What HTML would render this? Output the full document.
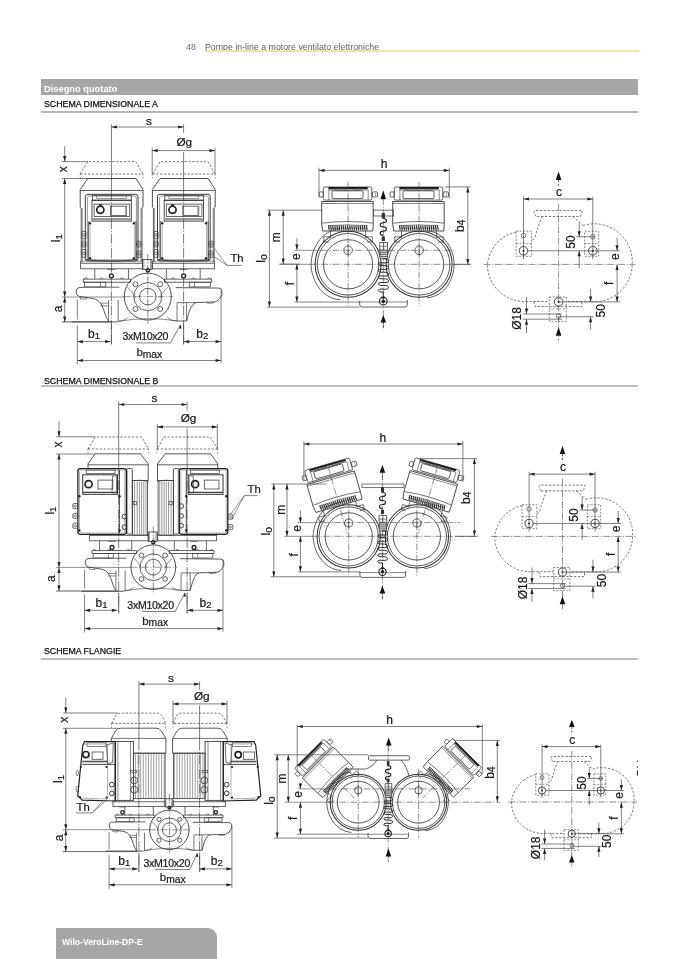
<!DOCTYPE html>
<html><head><meta charset="utf-8">
<style>
html,body{margin:0;padding:0;background:#fff;}
body{width:678px;height:959px;position:relative;overflow:hidden;font-family:"Liberation Sans",sans-serif;color:#222;}
.abs{position:absolute;white-space:nowrap;will-change:transform;}
#pnum{left:186px;top:41.6px;font-size:8.8px;color:#6a6a6a;}
#ptitle{left:205px;top:41.6px;font-size:8.8px;color:#5e5e5e;}
#yline{left:205px;top:50.2px;width:434px;height:2px;background:linear-gradient(#f6edc0,#ecdb93);}
#bar{left:41px;top:79px;width:597px;height:16px;background:#a6a6a9;}
#bar span{position:absolute;left:3px;top:4.6px;font-size:9.3px;font-weight:bold;color:#fff;}
.sec{left:43.5px;font-size:8.8px;color:#111;-webkit-text-stroke:0.25px #111;}
.hl{left:41px;width:597px;height:1.6px;background:#c0c0c0;}
#foot{left:56px;top:928px;width:161px;height:40px;background:#a6a6a9;border-top-right-radius:9px;}
#foot span{position:absolute;left:6px;top:9px;font-size:8.6px;font-weight:bold;color:#fff;}
svg{position:absolute;left:0;top:0;will-change:transform;}
svg text{stroke:#1a1a1a;stroke-width:0.22px;}
.ns *{vector-effect:non-scaling-stroke;}
</style></head><body>
<div class="abs" id="pnum">48</div>
<div class="abs" id="ptitle">Pompe in-line a motore ventilato elettroniche</div>
<div class="abs" id="yline"></div>
<div class="abs" id="bar"><span>Disegno quotato</span></div>
<div class="abs sec" style="top:99px">SCHEMA DIMENSIONALE A</div>
<div class="abs hl" style="top:110.8px;background:#b6b6b6"></div>
<div class="abs sec" style="top:375.6px">SCHEMA DIMENSIONALE B</div>
<div class="abs hl" style="top:385px"></div>
<div class="abs sec" style="top:645.7px">SCHEMA FLANGIE</div>
<div class="abs hl" style="top:658.1px"></div>
<div class="abs" id="foot"><span>Wilo-VeroLine-DP-E</span></div>
<svg width="678" height="959" viewBox="0 0 678 959" font-family="Liberation Sans, sans-serif">
<polyline points="80.2,174 87.9,161.6 135.7,161.6 143,174" fill="none" stroke="#555" stroke-width="0.8" stroke-dasharray="2.3,1.6"/>
<line x1="80.2" y1="174" x2="143" y2="174" stroke="#555" stroke-width="0.8" stroke-dasharray="2.3,1.6"/>
<line x1="80.2" y1="174" x2="80.2" y2="178.5" stroke="#666" stroke-width="0.7" stroke-dasharray="1.5,1.5"/>
<line x1="143" y1="174" x2="143" y2="178.5" stroke="#666" stroke-width="0.7" stroke-dasharray="1.5,1.5"/>
<polyline points="80.2,207.2 80.2,189.5 87.9,178.5 136,178.5 143,189.5 143,207.2" fill="none" stroke="#3a3a3a" stroke-width="0.9"/>
<line x1="80.2" y1="190.5" x2="143" y2="190.5" stroke="#3a3a3a" stroke-width="0.8"/>
<polyline points="80.2,207.2 81.2,208 81.2,262" fill="none" stroke="#3a3a3a" stroke-width="0.8"/>
<polyline points="143,207.2 142,208 142,262" fill="none" stroke="#3a3a3a" stroke-width="0.8"/>
<line x1="82.2" y1="208" x2="82.2" y2="262" stroke="#3a3a3a" stroke-width="0.6"/>
<line x1="141" y1="208" x2="141" y2="262" stroke="#3a3a3a" stroke-width="0.6"/>
<rect x="85.3" y="194.3" width="52.7" height="66.7" rx="2.5" fill="none" stroke="#3a3a3a" stroke-width="1.0"/>
<rect x="87.4" y="196" width="49" height="63.8" rx="1.5" fill="none" stroke="#555" stroke-width="0.6"/>
<rect x="92.6" y="195.3" width="38.7" height="4.7" rx="0" fill="none" stroke="#3a3a3a" stroke-width="0.8"/>
<rect x="96.7" y="195.8" width="29.9" height="2.8" rx="0" fill="none" stroke="#555" stroke-width="0.6"/>
<rect x="92" y="200.5" width="39.3" height="20.6" rx="0" fill="none" stroke="#3a3a3a" stroke-width="0.9"/>
<rect x="94.1" y="204.1" width="35.6" height="12.4" rx="0" fill="none" stroke="#444" stroke-width="0.8"/>
<line x1="92" y1="219.3" x2="131.3" y2="219.3" stroke="#9a9a9a" stroke-width="2.6"/>
<circle cx="100.3" cy="209.8" r="3.6" fill="none" stroke="#222" stroke-width="1.7"/>
<rect x="99.3" y="204.4" width="2" height="1.8" rx="0" fill="#444" stroke="#222" stroke-width="0.6"/>
<rect x="110.6" y="206.2" width="16" height="9.3" rx="0" fill="none" stroke="#444" stroke-width="0.8"/>
<line x1="125.8" y1="206.6" x2="125.8" y2="215.1" stroke="#999" stroke-width="1.4"/>
<line x1="88.4" y1="221.1" x2="88.4" y2="260" stroke="#3a3a3a" stroke-width="0.8"/>
<line x1="135.9" y1="221.1" x2="135.9" y2="260" stroke="#3a3a3a" stroke-width="0.8"/>
<line x1="90" y1="221.1" x2="90" y2="259" stroke="#666" stroke-width="0.5"/>
<line x1="134.3" y1="221.1" x2="134.3" y2="259" stroke="#666" stroke-width="0.5"/>
<circle cx="90" cy="223.2" r="1.2" fill="#333" stroke="#3a3a3a" stroke-width="0"/>
<circle cx="133.8" cy="223.2" r="1.2" fill="#333" stroke="#3a3a3a" stroke-width="0"/>
<circle cx="90" cy="258.3" r="1.2" fill="#333" stroke="#3a3a3a" stroke-width="0"/>
<circle cx="133.8" cy="258.3" r="1.2" fill="#333" stroke="#3a3a3a" stroke-width="0"/>
<rect x="81.7" y="231.5" width="4.3" height="7.2" rx="0.8" fill="none" stroke="#333" stroke-width="0.7"/>
<circle cx="83.9" cy="235.1" r="1.3" fill="none" stroke="#333" stroke-width="0.6"/>
<rect x="81.7" y="241.3" width="4.3" height="5.7" rx="0.8" fill="none" stroke="#333" stroke-width="0.7"/>
<circle cx="83.9" cy="244.15" r="1.3" fill="none" stroke="#333" stroke-width="0.6"/>
<rect x="81.7" y="249.5" width="4.3" height="7.8" rx="0.8" fill="none" stroke="#333" stroke-width="0.7"/>
<circle cx="83.9" cy="253.4" r="1.3" fill="none" stroke="#333" stroke-width="0.6"/>
<rect x="136.5" y="241.3" width="4.5" height="5.7" rx="0.8" fill="none" stroke="#333" stroke-width="0.7"/>
<circle cx="138.7" cy="244.15" r="1.3" fill="none" stroke="#333" stroke-width="0.6"/>
<rect x="136.5" y="251" width="4.5" height="6.3" rx="0.8" fill="none" stroke="#333" stroke-width="0.7"/>
<circle cx="138.7" cy="254.15" r="1.3" fill="none" stroke="#333" stroke-width="0.6"/>
<path d="M85.4,259.5 Q111.4,263 137.9,259.5" fill="none" stroke="#3a3a3a" stroke-width="1.0"/>
<line x1="81.9" y1="261.2" x2="141.2" y2="261.2" stroke="#555" stroke-width="0.6"/>
<polyline points="152.4,174 160.1,161.6 207.9,161.6 215.2,174" fill="none" stroke="#555" stroke-width="0.8" stroke-dasharray="2.3,1.6"/>
<line x1="152.4" y1="174" x2="215.2" y2="174" stroke="#555" stroke-width="0.8" stroke-dasharray="2.3,1.6"/>
<line x1="152.4" y1="174" x2="152.4" y2="178.5" stroke="#666" stroke-width="0.7" stroke-dasharray="1.5,1.5"/>
<line x1="215.2" y1="174" x2="215.2" y2="178.5" stroke="#666" stroke-width="0.7" stroke-dasharray="1.5,1.5"/>
<polyline points="152.4,207.2 152.4,189.5 160.1,178.5 208.2,178.5 215.2,189.5 215.2,207.2" fill="none" stroke="#3a3a3a" stroke-width="0.9"/>
<line x1="152.4" y1="190.5" x2="215.2" y2="190.5" stroke="#3a3a3a" stroke-width="0.8"/>
<polyline points="152.4,207.2 153.4,208 153.4,262" fill="none" stroke="#3a3a3a" stroke-width="0.8"/>
<polyline points="215.2,207.2 214.2,208 214.2,262" fill="none" stroke="#3a3a3a" stroke-width="0.8"/>
<line x1="154.4" y1="208" x2="154.4" y2="262" stroke="#3a3a3a" stroke-width="0.6"/>
<line x1="213.2" y1="208" x2="213.2" y2="262" stroke="#3a3a3a" stroke-width="0.6"/>
<rect x="157.5" y="194.3" width="52.7" height="66.7" rx="2.5" fill="none" stroke="#3a3a3a" stroke-width="1.0"/>
<rect x="159.6" y="196" width="49" height="63.8" rx="1.5" fill="none" stroke="#555" stroke-width="0.6"/>
<rect x="164.8" y="195.3" width="38.7" height="4.7" rx="0" fill="none" stroke="#3a3a3a" stroke-width="0.8"/>
<rect x="168.9" y="195.8" width="29.9" height="2.8" rx="0" fill="none" stroke="#555" stroke-width="0.6"/>
<rect x="164.2" y="200.5" width="39.3" height="20.6" rx="0" fill="none" stroke="#3a3a3a" stroke-width="0.9"/>
<rect x="166.3" y="204.1" width="35.6" height="12.4" rx="0" fill="none" stroke="#444" stroke-width="0.8"/>
<line x1="164.2" y1="219.3" x2="203.5" y2="219.3" stroke="#9a9a9a" stroke-width="2.6"/>
<circle cx="172.5" cy="209.8" r="3.6" fill="none" stroke="#222" stroke-width="1.7"/>
<rect x="171.5" y="204.4" width="2" height="1.8" rx="0" fill="#444" stroke="#222" stroke-width="0.6"/>
<rect x="182.8" y="206.2" width="16" height="9.3" rx="0" fill="none" stroke="#444" stroke-width="0.8"/>
<line x1="198" y1="206.6" x2="198" y2="215.1" stroke="#999" stroke-width="1.4"/>
<line x1="160.6" y1="221.1" x2="160.6" y2="260" stroke="#3a3a3a" stroke-width="0.8"/>
<line x1="208.1" y1="221.1" x2="208.1" y2="260" stroke="#3a3a3a" stroke-width="0.8"/>
<line x1="162.2" y1="221.1" x2="162.2" y2="259" stroke="#666" stroke-width="0.5"/>
<line x1="206.5" y1="221.1" x2="206.5" y2="259" stroke="#666" stroke-width="0.5"/>
<circle cx="162.2" cy="223.2" r="1.2" fill="#333" stroke="#3a3a3a" stroke-width="0"/>
<circle cx="206" cy="223.2" r="1.2" fill="#333" stroke="#3a3a3a" stroke-width="0"/>
<circle cx="162.2" cy="258.3" r="1.2" fill="#333" stroke="#3a3a3a" stroke-width="0"/>
<circle cx="206" cy="258.3" r="1.2" fill="#333" stroke="#3a3a3a" stroke-width="0"/>
<rect x="153.9" y="231.5" width="4.3" height="7.2" rx="0.8" fill="none" stroke="#333" stroke-width="0.7"/>
<circle cx="156.1" cy="235.1" r="1.3" fill="none" stroke="#333" stroke-width="0.6"/>
<rect x="153.9" y="241.3" width="4.3" height="5.7" rx="0.8" fill="none" stroke="#333" stroke-width="0.7"/>
<circle cx="156.1" cy="244.15" r="1.3" fill="none" stroke="#333" stroke-width="0.6"/>
<rect x="153.9" y="249.5" width="4.3" height="7.8" rx="0.8" fill="none" stroke="#333" stroke-width="0.7"/>
<circle cx="156.1" cy="253.4" r="1.3" fill="none" stroke="#333" stroke-width="0.6"/>
<rect x="208.7" y="241.3" width="4.5" height="5.7" rx="0.8" fill="none" stroke="#333" stroke-width="0.7"/>
<circle cx="210.9" cy="244.15" r="1.3" fill="none" stroke="#333" stroke-width="0.6"/>
<rect x="208.7" y="251" width="4.5" height="6.3" rx="0.8" fill="none" stroke="#333" stroke-width="0.7"/>
<circle cx="210.9" cy="254.15" r="1.3" fill="none" stroke="#333" stroke-width="0.6"/>
<path d="M157.6,259.5 Q183.6,263 210.1,259.5" fill="none" stroke="#3a3a3a" stroke-width="1.0"/>
<line x1="154.1" y1="261.2" x2="213.4" y2="261.2" stroke="#555" stroke-width="0.6"/>
<rect x="80.6" y="263.2" width="62" height="5.6" rx="0" fill="none" stroke="#3a3a3a" stroke-width="0.8"/>
<line x1="80.6" y1="261" x2="80.6" y2="263.2" stroke="#3a3a3a" stroke-width="0.75"/>
<line x1="142.6" y1="261" x2="142.6" y2="263.2" stroke="#3a3a3a" stroke-width="0.75"/>
<line x1="94.8" y1="268.8" x2="94.8" y2="279.1" stroke="#3a3a3a" stroke-width="0.75"/>
<line x1="128.6" y1="268.8" x2="128.6" y2="279.1" stroke="#3a3a3a" stroke-width="0.75"/>
<circle cx="111.4" cy="275.8" r="2" fill="none" stroke="#222" stroke-width="1.3"/>
<line x1="107.4" y1="269.5" x2="115.4" y2="269.5" stroke="#3a3a3a" stroke-width="0.6"/>
<rect x="83.3" y="279.1" width="47.1" height="3.1" rx="0" fill="none" stroke="#3a3a3a" stroke-width="0.8"/>
<path d="M84.4,279.1 a1.5,1.2 0 0 1 3,0" fill="none" stroke="#3a3a3a" stroke-width="0.6"/>
<path d="M99.9,279.1 a1.5,1.2 0 0 1 3,0" fill="none" stroke="#3a3a3a" stroke-width="0.6"/>
<path d="M120.4,279.1 a1.5,1.2 0 0 1 3,0" fill="none" stroke="#3a3a3a" stroke-width="0.6"/>
<rect x="84.6" y="282.2" width="21.2" height="4.7" rx="0" fill="none" stroke="#3a3a3a" stroke-width="0.7"/>
<line x1="100.5" y1="282.2" x2="100.5" y2="286.9" stroke="#3a3a3a" stroke-width="0.6"/>
<path d="M84.6,287.2 L78.8,287.7 Q76,288.2 76.2,292 Q76.4,295.5 79.2,296.4 L92.1,298.4 C100.4,299.5 102.4,306 104.4,312 C106.4,318 107.6,320.5 108.9,321.4" fill="none" stroke="#3a3a3a" stroke-width="0.85"/>
<path d="M80.4,297 l0,1.8 l6,0.4 l0,-1.4" fill="none" stroke="#3a3a3a" stroke-width="0.6"/>
<line x1="84.6" y1="287.2" x2="119.4" y2="287.2" stroke="#3a3a3a" stroke-width="0.8"/>
<line x1="100.1" y1="303.2" x2="108.5" y2="303.2" stroke="#3a3a3a" stroke-width="0.6"/>
<line x1="100.1" y1="305.8" x2="108.5" y2="305.8" stroke="#3a3a3a" stroke-width="0.6"/>
<line x1="108.5" y1="300" x2="108.5" y2="321.4" stroke="#3a3a3a" stroke-width="0.7"/>
<line x1="118.2" y1="300" x2="118.2" y2="321.4" stroke="#3a3a3a" stroke-width="0.7"/>
<path d="M118.2,321.4 Q123.4,321 127.4,318" fill="none" stroke="#3a3a3a" stroke-width="0.6"/>
<path d="M127.4,287.2 Q132.4,291 135.4,298" fill="none" stroke="#3a3a3a" stroke-width="0.6"/>
<rect x="152.4" y="263.2" width="62" height="5.6" rx="0" fill="none" stroke="#3a3a3a" stroke-width="0.8"/>
<line x1="152.4" y1="261" x2="152.4" y2="263.2" stroke="#3a3a3a" stroke-width="0.75"/>
<line x1="214.4" y1="261" x2="214.4" y2="263.2" stroke="#3a3a3a" stroke-width="0.75"/>
<line x1="200.2" y1="268.8" x2="200.2" y2="279.1" stroke="#3a3a3a" stroke-width="0.75"/>
<line x1="166.4" y1="268.8" x2="166.4" y2="279.1" stroke="#3a3a3a" stroke-width="0.75"/>
<circle cx="183.6" cy="275.8" r="2" fill="none" stroke="#222" stroke-width="1.3"/>
<line x1="179.6" y1="269.5" x2="187.6" y2="269.5" stroke="#3a3a3a" stroke-width="0.6"/>
<rect x="164.6" y="279.1" width="47.1" height="3.1" rx="0" fill="none" stroke="#3a3a3a" stroke-width="0.8"/>
<path d="M207.6,279.1 a1.5,1.2 0 0 1 3,0" fill="none" stroke="#3a3a3a" stroke-width="0.6"/>
<path d="M192.1,279.1 a1.5,1.2 0 0 1 3,0" fill="none" stroke="#3a3a3a" stroke-width="0.6"/>
<path d="M171.6,279.1 a1.5,1.2 0 0 1 3,0" fill="none" stroke="#3a3a3a" stroke-width="0.6"/>
<rect x="189.2" y="282.2" width="21.2" height="4.7" rx="0" fill="none" stroke="#3a3a3a" stroke-width="0.7"/>
<line x1="194.5" y1="282.2" x2="194.5" y2="286.9" stroke="#3a3a3a" stroke-width="0.6"/>
<path d="M175.6,287.6 L219,288.1 Q221.9,288.4 221.9,291.5 L221.9,294.6 Q219.5,300.5 214.9,301.9 L196,302.6 C191,304 189,312 186.6,321" fill="none" stroke="#3a3a3a" stroke-width="0.85"/>
<path d="M213.6,301.4 l-0.4,1.6 l-6,0.2 l0,-1.2" fill="none" stroke="#3a3a3a" stroke-width="0.6"/>
<line x1="186.6" y1="303" x2="186.6" y2="321" stroke="#3a3a3a" stroke-width="0.7"/>
<line x1="177" y1="303" x2="177" y2="321" stroke="#3a3a3a" stroke-width="0.7"/>
<line x1="177" y1="321" x2="186.6" y2="321" stroke="#3a3a3a" stroke-width="0.8"/>
<line x1="177" y1="302.6" x2="196" y2="302.6" stroke="#3a3a3a" stroke-width="0.7"/>
<path d="M177,321 Q171.6,321 167.6,318" fill="none" stroke="#3a3a3a" stroke-width="0.6"/>
<path d="M167.6,287.6 Q162.6,291 159.6,298" fill="none" stroke="#3a3a3a" stroke-width="0.6"/>
<rect x="142.4" y="259.5" width="9.5" height="10" rx="0" fill="none" stroke="#3a3a3a" stroke-width="0.8"/>
<line x1="143.8" y1="259.5" x2="143.8" y2="269.5" stroke="#3a3a3a" stroke-width="0.5"/>
<line x1="150.5" y1="259.5" x2="150.5" y2="269.5" stroke="#3a3a3a" stroke-width="0.5"/>
<circle cx="147.8" cy="270.3" r="1.7" fill="none" stroke="#222" stroke-width="1.3"/>
<circle cx="147.8" cy="296.6" r="23.5" fill="none" stroke="#3a3a3a" stroke-width="0.9"/>
<circle cx="147.8" cy="296.6" r="14" fill="none" stroke="#3a3a3a" stroke-width="0.8"/>
<circle cx="147.8" cy="296.6" r="8.3" fill="none" stroke="#3a3a3a" stroke-width="0.8"/>
<circle cx="135.4" cy="284.2" r="2.5" fill="none" stroke="#3a3a3a" stroke-width="0.8"/>
<circle cx="135.4" cy="309" r="2.5" fill="none" stroke="#3a3a3a" stroke-width="0.8"/>
<circle cx="160.2" cy="284.2" r="2.5" fill="none" stroke="#3a3a3a" stroke-width="0.8"/>
<circle cx="160.2" cy="309" r="2.5" fill="none" stroke="#3a3a3a" stroke-width="0.8"/>
<line x1="147.8" y1="254" x2="147.8" y2="324" stroke="#333" stroke-width="0.6" stroke-dasharray="7,1.5,1.2,1.5"/>
<line x1="123.8" y1="296.6" x2="172.8" y2="296.6" stroke="#444" stroke-width="0.55" stroke-dasharray="7,1.5,1.2,1.5"/>
<line x1="72" y1="321.9" x2="117" y2="321.9" stroke="#3a3a3a" stroke-width="0.85"/>
<path d="M117,321.6 Q147.8,316 177,321" fill="none" stroke="#3a3a3a" stroke-width="0.6"/>
<line x1="111.4" y1="124.3" x2="111.4" y2="190.5" stroke="#333" stroke-width="0.65"/>
<line x1="111.4" y1="190.5" x2="111.4" y2="344" stroke="#333" stroke-width="0.65" stroke-dasharray="10,1.6,1.2,1.6"/>
<line x1="183.6" y1="152.1" x2="183.6" y2="190.5" stroke="#333" stroke-width="0.65"/>
<line x1="183.6" y1="190.5" x2="183.6" y2="344" stroke="#333" stroke-width="0.65" stroke-dasharray="10,1.6,1.2,1.6"/>
<line x1="61.9" y1="297" x2="125" y2="297" stroke="#444" stroke-width="0.6"/>
<line x1="111.4" y1="127" x2="183.6" y2="127" stroke="#4a4a4a" stroke-width="0.7"/>
<polygon points="111.4,127 116.9,125.4 116.9,128.6" fill="#222"/>
<polygon points="183.6,127 178.1,125.4 178.1,128.6" fill="#222"/>
<line x1="183.6" y1="124.3" x2="183.6" y2="133" stroke="#4a4a4a" stroke-width="0.7"/>
<text x="148.9" y="125" font-size="11.8" text-anchor="middle" fill="#1a1a1a">s</text>
<line x1="152.2" y1="150.6" x2="215" y2="150.6" stroke="#4a4a4a" stroke-width="0.7"/>
<polygon points="152.2,150.6 157.7,149 157.7,152.2" fill="#222"/>
<polygon points="215,150.6 209.5,149 209.5,152.2" fill="#222"/>
<line x1="152.2" y1="147.6" x2="152.2" y2="174" stroke="#4a4a4a" stroke-width="0.7"/>
<line x1="215" y1="147.6" x2="215" y2="174" stroke="#4a4a4a" stroke-width="0.7"/>
<text x="184.3" y="145.7" font-size="11.8" text-anchor="middle" fill="#1a1a1a">Øg</text>
<line x1="61.9" y1="161.6" x2="88" y2="161.6" stroke="#4a4a4a" stroke-width="0.7"/>
<line x1="61.9" y1="178.5" x2="88" y2="178.5" stroke="#4a4a4a" stroke-width="0.7"/>
<line x1="64.7" y1="146.1" x2="64.7" y2="161.6" stroke="#4a4a4a" stroke-width="0.7"/>
<polygon points="64.7,161.6 63.1,156.1 66.3,156.1" fill="#222"/>
<text x="67.3" y="169.25" font-size="12" text-anchor="middle" fill="#1a1a1a" transform="rotate(-90 67.3 169.25)">x</text>
<line x1="64.7" y1="178.5" x2="64.7" y2="297" stroke="#4a4a4a" stroke-width="0.7"/>
<polygon points="64.7,178.5 63.1,184 66.3,184" fill="#222"/>
<polygon points="64.7,297 63.1,291.5 66.3,291.5" fill="#222"/>
<text x="60.1" y="242.2" font-size="12" fill="#1a1a1a" transform="rotate(-90 60.1 242.2)">l<tspan font-size="9.5" dy="1.5">1</tspan></text>
<line x1="64.7" y1="297" x2="64.7" y2="321.9" stroke="#4a4a4a" stroke-width="0.7"/>
<polygon points="64.7,297 63.1,302.5 66.3,302.5" fill="#222"/>
<polygon points="64.7,321.9 63.1,316.4 66.3,316.4" fill="#222"/>
<text x="61.9" y="308.8" font-size="12" text-anchor="middle" fill="#1a1a1a" transform="rotate(-90 61.9 308.8)">a</text>
<line x1="61.9" y1="321.9" x2="112" y2="321.9" stroke="#3a3a3a" stroke-width="0.8"/>
<line x1="77.3" y1="299.5" x2="77.3" y2="319.4" stroke="#4a4a4a" stroke-width="0.7"/>
<line x1="77.3" y1="325.4" x2="77.3" y2="364.5" stroke="#4a4a4a" stroke-width="0.7"/>
<line x1="221.1" y1="290" x2="221.1" y2="363.5" stroke="#4a4a4a" stroke-width="0.7"/>
<line x1="77.3" y1="341.6" x2="110.6" y2="341.6" stroke="#4a4a4a" stroke-width="0.7"/>
<polygon points="77.3,341.6 82.8,340 82.8,343.2" fill="#222"/>
<polygon points="110.6,341.6 105.1,340 105.1,343.2" fill="#222"/>
<line x1="183.8" y1="341.6" x2="221.1" y2="341.6" stroke="#4a4a4a" stroke-width="0.7"/>
<polygon points="183.8,341.6 189.3,340 189.3,343.2" fill="#222"/>
<polygon points="221.1,341.6 215.6,340 215.6,343.2" fill="#222"/>
<line x1="111.4" y1="323.9" x2="111.4" y2="344.6" stroke="#4a4a4a" stroke-width="0.7"/>
<line x1="183.6" y1="323.9" x2="183.6" y2="344.6" stroke="#4a4a4a" stroke-width="0.7"/>
<line x1="77.3" y1="360.5" x2="221.1" y2="360.5" stroke="#4a4a4a" stroke-width="0.7"/>
<polygon points="77.3,360.5 82.8,358.9 82.8,362.1" fill="#222"/>
<polygon points="221.1,360.5 215.6,358.9 215.6,362.1" fill="#222"/>
<text x="88.1" y="337.7" font-size="12" fill="#1a1a1a">b<tspan font-size="9.5" dy="1">1</tspan></text>
<text x="196.2" y="337.7" font-size="12" fill="#1a1a1a">b<tspan font-size="9.5" dy="1">2</tspan></text>
<text x="136.4" y="355.9" font-size="11.5" fill="#1a1a1a">b<tspan font-size="10.3" dy="1.8">max</tspan></text>
<text x="122.6" y="339.8" font-size="10.6" text-anchor="start" fill="#1a1a1a" letter-spacing="-0.45">3xM10x20</text>
<line x1="135.8" y1="342.9" x2="170.4" y2="342.9" stroke="#4a4a4a" stroke-width="0.7"/>
<line x1="170.4" y1="342.9" x2="180.3" y2="325" stroke="#4a4a4a" stroke-width="0.7"/>
<polygon points="180.3,324.5 179,328.5 181.6,328.5" fill="#222"/>
<text x="230.4" y="262.4" font-size="11.3" text-anchor="start" fill="#1a1a1a">Th</text>
<line x1="227" y1="265.4" x2="241.7" y2="265.4" stroke="#4a4a4a" stroke-width="0.7"/>
<line x1="227" y1="265.4" x2="214.5" y2="248.5" stroke="#4a4a4a" stroke-width="0.6"/>
<line x1="227" y1="265.4" x2="214.5" y2="257" stroke="#4a4a4a" stroke-width="0.6"/>
<line x1="266.9" y1="210.2" x2="322" y2="210.2" stroke="#4a4a4a" stroke-width="0.7"/>
<rect x="373.7" y="210.1" width="20" height="5.9" rx="0" fill="none" stroke="#3a3a3a" stroke-width="0.7"/>
<rect x="319.1" y="191.9" width="4.2" height="5.1" rx="1" fill="none" stroke="#3a3a3a" stroke-width="0.8"/>
<rect x="372.3" y="191.9" width="5.2" height="5.1" rx="1" fill="none" stroke="#3a3a3a" stroke-width="0.8"/>
<circle cx="375.7" cy="193.5" r="0.5" fill="#333" stroke="#3a3a3a" stroke-width="0"/>
<circle cx="375.7" cy="195.5" r="0.5" fill="#333" stroke="#3a3a3a" stroke-width="0"/>
<rect x="323.3" y="187" width="48.5" height="13.1" rx="1.5" fill="none" stroke="#3a3a3a" stroke-width="0.8"/>
<line x1="328.4" y1="188" x2="367.7" y2="188" stroke="#1e1e1e" stroke-width="1.9"/>
<line x1="328.4" y1="189.9" x2="367.7" y2="189.9" stroke="#444" stroke-width="0.9"/>
<rect x="332" y="190.8" width="31" height="7.8" rx="1" fill="none" stroke="#333" stroke-width="0.8"/>
<rect x="335.1" y="188.9" width="11" height="1.5" rx="0" fill="none" stroke="#555" stroke-width="0.5"/>
<rect x="354.1" y="188.9" width="6" height="1.5" rx="0" fill="none" stroke="#555" stroke-width="0.5"/>
<line x1="328.9" y1="189.6" x2="328.9" y2="200.1" stroke="#3a3a3a" stroke-width="0.6"/>
<line x1="368.2" y1="189.6" x2="368.2" y2="200.1" stroke="#3a3a3a" stroke-width="0.6"/>
<path d="M321.7,201.5 L373.2,201.5 L373.2,224 L372.8,231 L322.7,231 L321.7,224 Z" fill="none" stroke="#3a3a3a" stroke-width="0.9"/>
<line x1="321.7" y1="203.5" x2="373.2" y2="203.5" stroke="#3a3a3a" stroke-width="0.6"/>
<path d="M322.3,223.2 Q348.1,219.8 373.3,223.2" fill="none" stroke="#3a3a3a" stroke-width="0.7"/>
<path d="M327.9,225.6 Q348.1,224.2 367.1,225.6" fill="none" stroke="#3a3a3a" stroke-width="0.6"/>
<path d="M328.5,225.4 l0.7,5 M330.61,225.4 l0.7,5 M332.72,225.4 l0.7,5 M334.83,225.4 l0.7,5 M336.94,225.4 l0.7,5 M339.06,225.4 l0.7,5 M341.17,225.4 l0.7,5 M343.28,225.4 l0.7,5 M345.39,225.4 l0.7,5 M347.5,225.4 l0.7,5 M349.61,225.4 l0.7,5 M351.72,225.4 l0.7,5 M353.83,225.4 l0.7,5 M355.94,225.4 l0.7,5 M358.06,225.4 l0.7,5 M360.17,225.4 l0.7,5 M362.28,225.4 l0.7,5 M364.39,225.4 l0.7,5 M366.5,225.4 l0.7,5" fill="none" stroke="#2a2a2a" stroke-width="1.05"/>
<line x1="327.9" y1="228" x2="367.1" y2="228" stroke="#333" stroke-width="0.6"/>
<line x1="330.5" y1="231" x2="330.5" y2="238" stroke="#3a3a3a" stroke-width="0.7"/>
<line x1="365.6" y1="231" x2="365.6" y2="238" stroke="#3a3a3a" stroke-width="0.7"/>
<polyline points="330.5,236.8 323.8,236.8 323.8,242 329.1,242" fill="none" stroke="#3a3a3a" stroke-width="0.7"/>
<polyline points="365.6,236.8 372.3,236.8 372.3,242 367.1,242" fill="none" stroke="#3a3a3a" stroke-width="0.7"/>
<rect x="390.1" y="191.9" width="4.2" height="5.1" rx="1" fill="none" stroke="#3a3a3a" stroke-width="0.8"/>
<rect x="443.3" y="191.9" width="5.2" height="5.1" rx="1" fill="none" stroke="#3a3a3a" stroke-width="0.8"/>
<circle cx="446.7" cy="193.5" r="0.5" fill="#333" stroke="#3a3a3a" stroke-width="0"/>
<circle cx="446.7" cy="195.5" r="0.5" fill="#333" stroke="#3a3a3a" stroke-width="0"/>
<rect x="394.3" y="187" width="48.5" height="13.1" rx="1.5" fill="none" stroke="#3a3a3a" stroke-width="0.8"/>
<line x1="399.4" y1="188" x2="438.7" y2="188" stroke="#1e1e1e" stroke-width="1.9"/>
<line x1="399.4" y1="189.9" x2="438.7" y2="189.9" stroke="#444" stroke-width="0.9"/>
<rect x="403" y="190.8" width="31" height="7.8" rx="1" fill="none" stroke="#333" stroke-width="0.8"/>
<rect x="406.1" y="188.9" width="11" height="1.5" rx="0" fill="none" stroke="#555" stroke-width="0.5"/>
<rect x="425.1" y="188.9" width="6" height="1.5" rx="0" fill="none" stroke="#555" stroke-width="0.5"/>
<line x1="399.9" y1="189.6" x2="399.9" y2="200.1" stroke="#3a3a3a" stroke-width="0.6"/>
<line x1="439.2" y1="189.6" x2="439.2" y2="200.1" stroke="#3a3a3a" stroke-width="0.6"/>
<path d="M392.7,201.5 L444.2,201.5 L444.2,224 L443.8,231 L393.7,231 L392.7,224 Z" fill="none" stroke="#3a3a3a" stroke-width="0.9"/>
<line x1="392.7" y1="203.5" x2="444.2" y2="203.5" stroke="#3a3a3a" stroke-width="0.6"/>
<path d="M393.3,223.2 Q419.1,219.8 444.3,223.2" fill="none" stroke="#3a3a3a" stroke-width="0.7"/>
<path d="M398.9,225.6 Q419.1,224.2 438.1,225.6" fill="none" stroke="#3a3a3a" stroke-width="0.6"/>
<path d="M399.5,225.4 l0.7,5 M401.61,225.4 l0.7,5 M403.72,225.4 l0.7,5 M405.83,225.4 l0.7,5 M407.94,225.4 l0.7,5 M410.06,225.4 l0.7,5 M412.17,225.4 l0.7,5 M414.28,225.4 l0.7,5 M416.39,225.4 l0.7,5 M418.5,225.4 l0.7,5 M420.61,225.4 l0.7,5 M422.72,225.4 l0.7,5 M424.83,225.4 l0.7,5 M426.94,225.4 l0.7,5 M429.06,225.4 l0.7,5 M431.17,225.4 l0.7,5 M433.28,225.4 l0.7,5 M435.39,225.4 l0.7,5 M437.5,225.4 l0.7,5" fill="none" stroke="#2a2a2a" stroke-width="1.05"/>
<line x1="398.9" y1="228" x2="438.1" y2="228" stroke="#333" stroke-width="0.6"/>
<line x1="401.5" y1="231" x2="401.5" y2="238" stroke="#3a3a3a" stroke-width="0.7"/>
<line x1="436.6" y1="231" x2="436.6" y2="238" stroke="#3a3a3a" stroke-width="0.7"/>
<polyline points="401.5,236.8 394.8,236.8 394.8,242 400.1,242" fill="none" stroke="#3a3a3a" stroke-width="0.7"/>
<polyline points="436.6,236.8 443.3,236.8 443.3,242 438.1,242" fill="none" stroke="#3a3a3a" stroke-width="0.7"/>
<circle cx="348.1" cy="264.3" r="24.6" fill="none" stroke="#3a3a3a" stroke-width="0.85"/>
<circle cx="348.1" cy="264.3" r="30.8" fill="none" stroke="#3a3a3a" stroke-width="0.85"/>
<circle cx="348.1" cy="264.3" r="33" fill="none" stroke="#333" stroke-width="1.05"/>
<path d="M340.1,228.8 C320.35,230.3 311.1,250.3 311.1,264.3 C311.1,278.3 320.35,298.3 340.1,299.8" fill="none" stroke="#3a3a3a" stroke-width="0.8"/>
<circle cx="419.1" cy="264.3" r="24.6" fill="none" stroke="#3a3a3a" stroke-width="0.85"/>
<circle cx="419.1" cy="264.3" r="30.8" fill="none" stroke="#3a3a3a" stroke-width="0.85"/>
<circle cx="419.1" cy="264.3" r="33" fill="none" stroke="#333" stroke-width="1.05"/>
<path d="M427.1,230.8 C445.35,232.3 454.1,250.3 454.1,264.3 C454.1,278.3 445.35,296.3 427.1,297.8" fill="none" stroke="#3a3a3a" stroke-width="0.8"/>
<circle cx="348.1" cy="250.3" r="4.3" fill="none" stroke="#3a3a3a" stroke-width="0.8"/>
<line x1="348.1" y1="244" x2="348.1" y2="257" stroke="#3a3a3a" stroke-width="0.6"/>
<line x1="348.1" y1="182" x2="348.1" y2="306" stroke="#444" stroke-width="0.6" stroke-dasharray="7,1.5,1.2,1.5"/>
<circle cx="419.1" cy="250.3" r="4.3" fill="none" stroke="#3a3a3a" stroke-width="0.8"/>
<line x1="419.1" y1="244" x2="419.1" y2="257" stroke="#3a3a3a" stroke-width="0.6"/>
<line x1="419.1" y1="182" x2="419.1" y2="306" stroke="#444" stroke-width="0.6" stroke-dasharray="7,1.5,1.2,1.5"/>
<line x1="279.4" y1="264.3" x2="310" y2="264.3" stroke="#444" stroke-width="0.6"/>
<line x1="310" y1="264.3" x2="470.7" y2="264.3" stroke="#444" stroke-width="0.6" stroke-dasharray="7,1.5,1.2,1.5"/>
<line x1="294.4" y1="250.3" x2="310" y2="250.3" stroke="#444" stroke-width="0.6"/>
<line x1="310" y1="250.3" x2="455" y2="250.3" stroke="#444" stroke-width="0.6" stroke-dasharray="7,1.5,1.2,1.5"/>
<line x1="294.4" y1="302" x2="359.7" y2="302" stroke="#4a4a4a" stroke-width="0.7"/>
<path d="M359.7,300.8 L359.7,304.5 Q359.7,307 362,307 L405,307 Q407.3,307 407.3,304.5 L407.3,300" fill="none" stroke="#3a3a3a" stroke-width="0.8"/>
<line x1="266.9" y1="307.1" x2="359.7" y2="307.1" stroke="#4a4a4a" stroke-width="0.7"/>
<line x1="359.7" y1="302" x2="407.3" y2="302" stroke="#3a3a3a" stroke-width="0.6"/>
<line x1="383.3" y1="198" x2="383.3" y2="330" stroke="#444" stroke-width="0.6" stroke-dasharray="7,1.5,1.2,1.5"/>
<rect x="381.7" y="213" width="3.2" height="5.5" rx="0" fill="#333" stroke="#3a3a3a" stroke-width="0"/>
<path d="M383.3,218.5 c4.2,0 4.2,4.2 0,4.2 c-4.2,0 -4.2,4.2 0,4.2 c4.2,0 4.2,4.2 0,4.2 c-4.2,0 -4.2,4.2 0,4.2" fill="none" stroke="#222" stroke-width="1.1"/>
<rect x="381.7" y="236.5" width="3.2" height="4.5" rx="0" fill="#333" stroke="#3a3a3a" stroke-width="0"/>
<rect x="379.8" y="242.4" width="7.8" height="7.8" rx="0" fill="none" stroke="#3a3a3a" stroke-width="0.8"/>
<line x1="379.8" y1="246.3" x2="387.6" y2="246.3" stroke="#3a3a3a" stroke-width="0.6"/>
<line x1="383.7" y1="242.4" x2="383.7" y2="250.2" stroke="#3a3a3a" stroke-width="0.6"/>
<rect x="380" y="250.2" width="7.4" height="8.4" rx="0" fill="#ddd" stroke="#3a3a3a" stroke-width="0.7"/>
<line x1="380" y1="252.3" x2="387.4" y2="252.3" stroke="#444" stroke-width="0.8"/>
<line x1="380" y1="254.4" x2="387.4" y2="254.4" stroke="#444" stroke-width="0.8"/>
<line x1="380" y1="256.5" x2="387.4" y2="256.5" stroke="#444" stroke-width="0.8"/>
<path d="M383.3,258.6 C390.3,258.5 390.3,263.8 383.3,262.8 C376.3,261.8 376.8,266.2 383.3,265.6 C390.3,265.1 390.3,270.4 383.3,269.4 C376.3,268.4 376.8,272.8 383.3,272.2 C390.3,271.7 390.3,277 383.3,276 C376.3,275 376.8,279.4 383.3,278.8 C390.3,278.3 390.3,283.6 383.3,282.6 C376.3,281.6 376.8,286 383.3,285.4 C390.3,284.9 390.3,290.2 383.3,289.2 C376.3,288.2 376.8,292.6 383.3,292" fill="none" stroke="#222" stroke-width="1.0"/>
<line x1="383.3" y1="292" x2="383.3" y2="297" stroke="#222" stroke-width="1.0"/>
<circle cx="383.3" cy="301.2" r="3.8" fill="none" stroke="#222" stroke-width="1.1"/>
<circle cx="383.3" cy="301.2" r="1.8" fill="#222" stroke="#3a3a3a" stroke-width="0"/>
<polygon points="381.5,296.5 385.1,296.5 383.3,299.5" fill="#222" stroke="#3a3a3a" stroke-width="0"/>
<polygon points="383.3,190.2 380.5,199.2 386.1,199.2" fill="#111"/>
<polygon points="383.3,315.1 380.5,322.6 386.1,322.6" fill="#111"/>
<line x1="383.3" y1="322" x2="383.3" y2="328" stroke="#333" stroke-width="0.8" stroke-dasharray="2,1.5"/>
<line x1="319" y1="167.7" x2="319" y2="197.2" stroke="#4a4a4a" stroke-width="0.7"/>
<line x1="449.3" y1="167.7" x2="449.3" y2="198.7" stroke="#4a4a4a" stroke-width="0.7"/>
<line x1="319" y1="170.4" x2="449.3" y2="170.4" stroke="#4a4a4a" stroke-width="0.7"/>
<polygon points="319,170.4 324.5,168.8 324.5,172" fill="#222"/>
<polygon points="449.3,170.4 443.8,168.8 443.8,172" fill="#222"/>
<text x="384" y="167.9" font-size="12" text-anchor="middle" fill="#1a1a1a">h</text>
<line x1="269.4" y1="210.2" x2="269.4" y2="307.1" stroke="#4a4a4a" stroke-width="0.7"/>
<polygon points="269.4,210.2 267.8,215.7 271,215.7" fill="#222"/>
<polygon points="269.4,307.1 267.8,301.6 271,301.6" fill="#222"/>
<text x="264.8" y="262.7" font-size="12" fill="#1a1a1a" transform="rotate(-90 264.8 262.7)">l<tspan font-size="10.5" dy="2">o</tspan></text>
<line x1="283.2" y1="210.2" x2="283.2" y2="264.1" stroke="#4a4a4a" stroke-width="0.7"/>
<polygon points="283.2,210.2 281.6,215.7 284.8,215.7" fill="#222"/>
<polygon points="283.2,264.1 281.6,258.6 284.8,258.6" fill="#222"/>
<line x1="279.4" y1="264.1" x2="300" y2="264.1" stroke="#4a4a4a" stroke-width="0.7"/>
<text x="280" y="237.3" font-size="12" text-anchor="middle" fill="#1a1a1a" transform="rotate(-90 280 237.3)">m</text>
<line x1="296.9" y1="238.2" x2="296.9" y2="250.1" stroke="#4a4a4a" stroke-width="0.7"/>
<polygon points="296.9,250.1 295.3,244.6 298.5,244.6" fill="#222"/>
<text x="300" y="256.6" font-size="12" text-anchor="middle" fill="#1a1a1a" transform="rotate(-90 300 256.6)">e</text>
<line x1="296.9" y1="264.1" x2="296.9" y2="302.1" stroke="#4a4a4a" stroke-width="0.7"/>
<polygon points="296.9,264.1 295.3,269.6 298.5,269.6" fill="#222"/>
<polygon points="296.9,302.1 295.3,296.6 298.5,296.6" fill="#222"/>
<text x="293.6" y="283.5" font-size="12" text-anchor="middle" fill="#1a1a1a" transform="rotate(-90 293.6 283.5)">f</text>
<line x1="445" y1="186.9" x2="470.5" y2="186.9" stroke="#4a4a4a" stroke-width="0.7"/>
<line x1="453" y1="264.4" x2="470.7" y2="264.4" stroke="#4a4a4a" stroke-width="0.7"/>
<line x1="467.8" y1="186.9" x2="467.8" y2="264.4" stroke="#4a4a4a" stroke-width="0.7"/>
<polygon points="467.8,186.9 466.2,192.4 469.4,192.4" fill="#222"/>
<polygon points="467.8,264.4 466.2,258.9 469.4,258.9" fill="#222"/>
<text x="463.8" y="232" font-size="12" fill="#1a1a1a" transform="rotate(-90 463.8 232)">b<tspan font-size="10" dy="1.3">4</tspan></text>
<path d="M516,232 A37.1,37.1 0 0 0 487.4,264.4 A37.1,37.1 0 0 0 524.2,301.5 L549,301.5" fill="none" stroke="#555" stroke-width="0.8" stroke-dasharray="2.3,1.6"/>
<path d="M583.2,225.5 A38,38 0 0 1 632.2,264.4 A38,38 0 0 1 589.8,301.5 L566.3,301.5" fill="none" stroke="#555" stroke-width="0.8" stroke-dasharray="2.3,1.6"/>
<polyline points="536,216.5 533.8,212.5 535,210.6 582.4,210.6 580.5,216.5 536,216.5" fill="none" stroke="#555" stroke-width="0.8" stroke-dasharray="2.3,1.6"/>
<path d="M542,216.5 Q538,226 534.6,238.6 L531.6,240.5" fill="none" stroke="#555" stroke-width="0.8" stroke-dasharray="2.3,1.6"/>
<line x1="572.9" y1="216.5" x2="583.2" y2="225.5" stroke="#555" stroke-width="0.8" stroke-dasharray="2.3,1.6"/>
<rect x="516.1" y="231.2" width="15.5" height="25.1" rx="0" fill="none" stroke="#555" stroke-width="0.7" stroke-dasharray="2,1.4"/>
<rect x="584.7" y="231.2" width="14" height="25.1" rx="0" fill="none" stroke="#555" stroke-width="0.7" stroke-dasharray="2,1.4"/>
<rect x="549.3" y="297" width="17" height="24.4" rx="0" fill="none" stroke="#555" stroke-width="0.7" stroke-dasharray="2,1.4"/>
<line x1="516.1" y1="243.5" x2="531.6" y2="243.5" stroke="#555" stroke-width="0.6" stroke-dasharray="2,1.4"/>
<line x1="584.7" y1="243.5" x2="598.7" y2="243.5" stroke="#555" stroke-width="0.6" stroke-dasharray="2,1.4"/>
<line x1="549.3" y1="309" x2="566.3" y2="309" stroke="#555" stroke-width="0.6" stroke-dasharray="2,1.4"/>
<polyline points="533.8,301.5 535,306.6 581.7,306.6 581.7,301.5" fill="none" stroke="#555" stroke-width="0.8" stroke-dasharray="2.3,1.6"/>
<circle cx="523.5" cy="235.6" r="2.3" fill="none" stroke="#444" stroke-width="0.7"/>
<circle cx="592.8" cy="236.7" r="2.3" fill="none" stroke="#444" stroke-width="0.7"/>
<circle cx="558.6" cy="316.2" r="2.3" fill="none" stroke="#444" stroke-width="0.7"/>
<circle cx="523.5" cy="250.8" r="4.3" fill="none" stroke="#333" stroke-width="0.9"/>
<circle cx="523.5" cy="250.8" r="1.1" fill="#222" stroke="#3a3a3a" stroke-width="0"/>
<circle cx="592.8" cy="250.8" r="4.3" fill="none" stroke="#333" stroke-width="0.9"/>
<circle cx="592.8" cy="250.8" r="1.1" fill="#222" stroke="#3a3a3a" stroke-width="0"/>
<circle cx="558.6" cy="301.9" r="4.3" fill="none" stroke="#333" stroke-width="0.9"/>
<circle cx="558.6" cy="301.9" r="1.1" fill="#222" stroke="#3a3a3a" stroke-width="0"/>
<line x1="523.5" y1="196.5" x2="523.5" y2="259.2" stroke="#4a4a4a" stroke-width="0.7"/>
<line x1="592.8" y1="196.5" x2="592.8" y2="259.2" stroke="#4a4a4a" stroke-width="0.7"/>
<line x1="527.8" y1="250.8" x2="620" y2="250.8" stroke="#4a4a4a" stroke-width="0.7"/>
<line x1="576.5" y1="236.7" x2="595" y2="236.7" stroke="#4a4a4a" stroke-width="0.7"/>
<line x1="558.6" y1="301.9" x2="620" y2="301.9" stroke="#4a4a4a" stroke-width="0.7"/>
<line x1="522.8" y1="314" x2="562" y2="314" stroke="#4a4a4a" stroke-width="0.7"/>
<line x1="522.8" y1="319.2" x2="562" y2="319.2" stroke="#4a4a4a" stroke-width="0.7"/>
<line x1="558.6" y1="316.7" x2="593.5" y2="316.7" stroke="#4a4a4a" stroke-width="0.7"/>
<line x1="483.7" y1="264.4" x2="635.5" y2="264.4" stroke="#444" stroke-width="0.6" stroke-dasharray="7,1.5,1.2,1.5"/>
<line x1="558.6" y1="204" x2="558.6" y2="341" stroke="#444" stroke-width="0.6" stroke-dasharray="7,1.5,1.2,1.5"/>
<line x1="558.6" y1="180" x2="558.6" y2="186.5" stroke="#333" stroke-width="0.8" stroke-dasharray="2.2,1.5"/>
<polygon points="558.6,171.5 555.8,180 561.4,180" fill="#111"/>
<polygon points="558.6,327.3 555.8,335.8 561.4,335.8" fill="#111"/>
<line x1="523.5" y1="199" x2="592.8" y2="199" stroke="#4a4a4a" stroke-width="0.7"/>
<polygon points="523.5,199 529,197.4 529,200.6" fill="#222"/>
<polygon points="592.8,199 587.3,197.4 587.3,200.6" fill="#222"/>
<text x="559" y="196" font-size="12" text-anchor="middle" fill="#1a1a1a">c</text>
<line x1="579.2" y1="223.1" x2="579.2" y2="236.7" stroke="#4a4a4a" stroke-width="0.7"/>
<polygon points="579.2,236.7 577.6,231.2 580.8,231.2" fill="#222"/>
<line x1="579.2" y1="250.8" x2="579.2" y2="268" stroke="#4a4a4a" stroke-width="0.7"/>
<polygon points="579.2,250.8 577.6,256.3 580.8,256.3" fill="#222"/>
<text x="575" y="242" font-size="12" text-anchor="middle" fill="#1a1a1a" transform="rotate(-90 575 242)">50</text>
<line x1="617.1" y1="237.8" x2="617.1" y2="250.8" stroke="#4a4a4a" stroke-width="0.7"/>
<polygon points="617.1,250.8 615.5,245.3 618.7,245.3" fill="#222"/>
<text x="618.9" y="256.6" font-size="12" text-anchor="middle" fill="#1a1a1a" transform="rotate(-90 618.9 256.6)">e</text>
<line x1="617.1" y1="264.6" x2="617.1" y2="301.9" stroke="#4a4a4a" stroke-width="0.7"/>
<polygon points="617.1,264.6 615.5,270.1 618.7,270.1" fill="#222"/>
<polygon points="617.1,301.9 615.5,296.4 618.7,296.4" fill="#222"/>
<text x="613.5" y="283.3" font-size="12" text-anchor="middle" fill="#1a1a1a" transform="rotate(-90 613.5 283.3)">f</text>
<line x1="590.6" y1="288.9" x2="590.6" y2="301.9" stroke="#4a4a4a" stroke-width="0.7"/>
<polygon points="590.6,301.9 589,296.4 592.2,296.4" fill="#222"/>
<line x1="590.6" y1="316.7" x2="590.6" y2="329.5" stroke="#4a4a4a" stroke-width="0.7"/>
<polygon points="590.6,316.7 589,322.2 592.2,322.2" fill="#222"/>
<text x="604.8" y="310.7" font-size="12" text-anchor="middle" fill="#1a1a1a" transform="rotate(-90 604.8 310.7)">50</text>
<line x1="526.5" y1="297" x2="526.5" y2="314" stroke="#4a4a4a" stroke-width="0.7"/>
<polygon points="526.5,314 524.9,308.5 528.1,308.5" fill="#222"/>
<line x1="526.5" y1="319.2" x2="526.5" y2="333.2" stroke="#4a4a4a" stroke-width="0.7"/>
<polygon points="526.5,319.2 524.9,324.7 528.1,324.7" fill="#222"/>
<text x="521" y="318.5" font-size="12" text-anchor="middle" fill="#1a1a1a" transform="rotate(-90 521 318.5)">Ø18</text>
<polyline points="88,449 95.4,437 141.7,437 148.7,449" fill="none" stroke="#555" stroke-width="0.8" stroke-dasharray="2.3,1.6"/>
<line x1="88" y1="449" x2="148.7" y2="449" stroke="#555" stroke-width="0.8" stroke-dasharray="2.3,1.6"/>
<line x1="88" y1="449" x2="88" y2="453.6" stroke="#666" stroke-width="0.7" stroke-dasharray="1.5,1.5"/>
<line x1="148.7" y1="449" x2="148.7" y2="453.6" stroke="#666" stroke-width="0.7" stroke-dasharray="1.5,1.5"/>
<polyline points="88,468.6 88,463.8 95,453.8 140.5,453.8 148.2,463.8 148.2,481.3" fill="none" stroke="#3a3a3a" stroke-width="0.85"/>
<line x1="88" y1="464.8" x2="148.2" y2="464.8" stroke="#3a3a3a" stroke-width="0.8"/>
<path d="M148.2,481.3 Q141,479.5 132.3,480.6" fill="none" stroke="#3a3a3a" stroke-width="0.8"/>
<rect x="132.3" y="480.6" width="15.3" height="54.4" rx="0" fill="none" stroke="#3a3a3a" stroke-width="0.8"/>
<line x1="134.6" y1="481.5" x2="134.6" y2="534.5" stroke="#555" stroke-width="0.6"/>
<line x1="137.2" y1="481.5" x2="137.2" y2="534.5" stroke="#555" stroke-width="0.6"/>
<line x1="139.4" y1="481.5" x2="139.4" y2="534.5" stroke="#555" stroke-width="0.6"/>
<line x1="141.6" y1="481.5" x2="141.6" y2="534.5" stroke="#555" stroke-width="0.6"/>
<line x1="143.8" y1="481.5" x2="143.8" y2="534.5" stroke="#555" stroke-width="0.6"/>
<line x1="146" y1="481.5" x2="146" y2="534.5" stroke="#555" stroke-width="0.6"/>
<rect x="133.3" y="501.3" width="3.3" height="3.5" rx="0" fill="none" stroke="#3a3a3a" stroke-width="0.6"/>
<rect x="126.4" y="468.6" width="5.9" height="65.4" rx="1" fill="none" stroke="#3a3a3a" stroke-width="0.9"/>
<line x1="127.6" y1="469.5" x2="127.6" y2="533.5" stroke="#555" stroke-width="0.5"/>
<rect x="77.9" y="468.6" width="48.5" height="65.7" rx="2.5" fill="none" stroke="#222" stroke-width="1.3"/>
<rect x="79.5" y="470" width="45.3" height="63" rx="1.5" fill="none" stroke="#666" stroke-width="0.5"/>
<line x1="119.4" y1="470" x2="119.4" y2="533.5" stroke="#333" stroke-width="0.9"/>
<rect x="86.2" y="470.1" width="28.9" height="3.5" rx="0" fill="none" stroke="#3a3a3a" stroke-width="0.7"/>
<rect x="82.7" y="474.8" width="34.8" height="19.5" rx="0" fill="none" stroke="#333" stroke-width="1.0"/>
<polygon points="112.5,476 116.8,476 116.3,492.8 112,492.8" fill="none" stroke="#3a3a3a" stroke-width="0.7"/>
<line x1="82.7" y1="492.4" x2="117.5" y2="492.4" stroke="#444" stroke-width="1.2"/>
<circle cx="79.3" cy="496.3" r="1.2" fill="#222" stroke="#3a3a3a" stroke-width="0"/>
<circle cx="119.5" cy="496.3" r="1.2" fill="#222" stroke="#3a3a3a" stroke-width="0"/>
<circle cx="79.3" cy="530.5" r="1.2" fill="#222" stroke="#3a3a3a" stroke-width="0"/>
<circle cx="119.5" cy="530.5" r="1.2" fill="#222" stroke="#3a3a3a" stroke-width="0"/>
<rect x="72.8" y="503.5" width="5.1" height="5.2" rx="1.5" fill="none" stroke="#3a3a3a" stroke-width="0.8"/>
<circle cx="75.3" cy="506.1" r="1.1" fill="none" stroke="#333" stroke-width="0.6"/>
<rect x="72.8" y="513.3" width="5.1" height="5.2" rx="1.5" fill="none" stroke="#3a3a3a" stroke-width="0.8"/>
<circle cx="75.3" cy="515.9" r="1.1" fill="none" stroke="#333" stroke-width="0.6"/>
<rect x="72.8" y="523.1" width="5.1" height="5.2" rx="1.5" fill="none" stroke="#3a3a3a" stroke-width="0.8"/>
<circle cx="75.3" cy="525.7" r="1.1" fill="none" stroke="#333" stroke-width="0.6"/>
<circle cx="124.4" cy="516.6" r="2.3" fill="none" stroke="#333" stroke-width="0.9"/>
<circle cx="124.4" cy="527.1" r="2.3" fill="none" stroke="#333" stroke-width="0.9"/>
<polyline points="217.7,449 210.3,437 164,437 157,449" fill="none" stroke="#555" stroke-width="0.8" stroke-dasharray="2.3,1.6"/>
<line x1="217.7" y1="449" x2="157" y2="449" stroke="#555" stroke-width="0.8" stroke-dasharray="2.3,1.6"/>
<line x1="217.7" y1="449" x2="217.7" y2="453.6" stroke="#666" stroke-width="0.7" stroke-dasharray="1.5,1.5"/>
<line x1="157" y1="449" x2="157" y2="453.6" stroke="#666" stroke-width="0.7" stroke-dasharray="1.5,1.5"/>
<polyline points="217.7,468.6 217.7,463.8 210.7,453.8 165.2,453.8 157.5,463.8 157.5,481.3" fill="none" stroke="#3a3a3a" stroke-width="0.85"/>
<line x1="217.7" y1="464.8" x2="157.5" y2="464.8" stroke="#3a3a3a" stroke-width="0.8"/>
<path d="M157.5,481.3 Q164.7,479.5 173.4,480.6" fill="none" stroke="#3a3a3a" stroke-width="0.8"/>
<rect x="158.1" y="480.6" width="15.3" height="54.4" rx="0" fill="none" stroke="#3a3a3a" stroke-width="0.8"/>
<line x1="171.1" y1="481.5" x2="171.1" y2="534.5" stroke="#555" stroke-width="0.6"/>
<line x1="168.5" y1="481.5" x2="168.5" y2="534.5" stroke="#555" stroke-width="0.6"/>
<line x1="166.3" y1="481.5" x2="166.3" y2="534.5" stroke="#555" stroke-width="0.6"/>
<line x1="164.1" y1="481.5" x2="164.1" y2="534.5" stroke="#555" stroke-width="0.6"/>
<line x1="161.9" y1="481.5" x2="161.9" y2="534.5" stroke="#555" stroke-width="0.6"/>
<line x1="159.7" y1="481.5" x2="159.7" y2="534.5" stroke="#555" stroke-width="0.6"/>
<rect x="169.1" y="501.3" width="3.3" height="3.5" rx="0" fill="none" stroke="#3a3a3a" stroke-width="0.6"/>
<rect x="173.4" y="468.6" width="5.9" height="65.4" rx="1" fill="none" stroke="#3a3a3a" stroke-width="0.9"/>
<line x1="178.1" y1="469.5" x2="178.1" y2="533.5" stroke="#555" stroke-width="0.5"/>
<rect x="179.3" y="468.6" width="48.5" height="65.7" rx="2.5" fill="none" stroke="#222" stroke-width="1.3"/>
<rect x="180.9" y="470" width="45.3" height="63" rx="1.5" fill="none" stroke="#666" stroke-width="0.5"/>
<line x1="186.3" y1="470" x2="186.3" y2="533.5" stroke="#333" stroke-width="0.9"/>
<rect x="190.6" y="470.1" width="28.9" height="3.5" rx="0" fill="none" stroke="#3a3a3a" stroke-width="0.7"/>
<rect x="188.2" y="474.8" width="34.8" height="19.5" rx="0" fill="none" stroke="#333" stroke-width="1.0"/>
<polygon points="193.2,476 188.9,476 189.4,492.8 193.7,492.8" fill="none" stroke="#3a3a3a" stroke-width="0.7"/>
<line x1="223" y1="492.4" x2="188.2" y2="492.4" stroke="#444" stroke-width="1.2"/>
<circle cx="226.4" cy="496.3" r="1.2" fill="#222" stroke="#3a3a3a" stroke-width="0"/>
<circle cx="186.2" cy="496.3" r="1.2" fill="#222" stroke="#3a3a3a" stroke-width="0"/>
<circle cx="226.4" cy="530.5" r="1.2" fill="#222" stroke="#3a3a3a" stroke-width="0"/>
<circle cx="186.2" cy="530.5" r="1.2" fill="#222" stroke="#3a3a3a" stroke-width="0"/>
<rect x="227.8" y="514" width="5.1" height="5.2" rx="1.5" fill="none" stroke="#3a3a3a" stroke-width="0.8"/>
<circle cx="230.4" cy="516.6" r="1.1" fill="none" stroke="#333" stroke-width="0.6"/>
<rect x="227.8" y="524.5" width="5.1" height="5.2" rx="1.5" fill="none" stroke="#3a3a3a" stroke-width="0.8"/>
<circle cx="230.4" cy="527.1" r="1.1" fill="none" stroke="#333" stroke-width="0.6"/>
<circle cx="181.3" cy="506.1" r="2.3" fill="none" stroke="#333" stroke-width="0.9"/>
<circle cx="181.3" cy="515.9" r="2.3" fill="none" stroke="#333" stroke-width="0.9"/>
<circle cx="181.3" cy="525.7" r="2.3" fill="none" stroke="#333" stroke-width="0.9"/>
<circle cx="88.6" cy="484.2" r="3.5" fill="none" stroke="#222" stroke-width="1.7"/>
<rect x="98" y="480.1" width="14.8" height="8.9" rx="0" fill="none" stroke="#444" stroke-width="0.8"/>
<circle cx="195.1" cy="484.2" r="3.5" fill="none" stroke="#222" stroke-width="1.7"/>
<rect x="204.3" y="480.1" width="14.7" height="8.9" rx="0" fill="none" stroke="#444" stroke-width="0.8"/>
<g transform="translate(153.3,567.2) scale(0.951) translate(-147.8,-296.6)" class="ns">
<rect x="80.6" y="263.2" width="62" height="5.6" rx="0" fill="none" stroke="#3a3a3a" stroke-width="0.8"/>
<line x1="80.6" y1="261" x2="80.6" y2="263.2" stroke="#3a3a3a" stroke-width="0.75"/>
<line x1="142.6" y1="261" x2="142.6" y2="263.2" stroke="#3a3a3a" stroke-width="0.75"/>
<line x1="91.3" y1="268.8" x2="91.3" y2="279.1" stroke="#3a3a3a" stroke-width="0.75"/>
<line x1="125.1" y1="268.8" x2="125.1" y2="279.1" stroke="#3a3a3a" stroke-width="0.75"/>
<circle cx="104.4" cy="275.8" r="2" fill="none" stroke="#222" stroke-width="1.3"/>
<line x1="100.4" y1="269.5" x2="108.4" y2="269.5" stroke="#3a3a3a" stroke-width="0.6"/>
<rect x="83.3" y="279.1" width="47.1" height="3.1" rx="0" fill="none" stroke="#3a3a3a" stroke-width="0.8"/>
<path d="M84.4,279.1 a1.5,1.2 0 0 1 3,0" fill="none" stroke="#3a3a3a" stroke-width="0.6"/>
<path d="M99.9,279.1 a1.5,1.2 0 0 1 3,0" fill="none" stroke="#3a3a3a" stroke-width="0.6"/>
<path d="M120.4,279.1 a1.5,1.2 0 0 1 3,0" fill="none" stroke="#3a3a3a" stroke-width="0.6"/>
<rect x="84.6" y="282.2" width="21.2" height="4.7" rx="0" fill="none" stroke="#3a3a3a" stroke-width="0.7"/>
<line x1="100.5" y1="282.2" x2="100.5" y2="286.9" stroke="#3a3a3a" stroke-width="0.6"/>
<path d="M84.6,287.2 L78.8,287.7 Q76,288.2 76.2,292 Q76.4,295.5 79.2,296.4 L92.1,298.4 C100.4,299.5 102.4,306 104.4,312 C106.4,318 107.6,320.5 108.9,321.4" fill="none" stroke="#3a3a3a" stroke-width="0.85"/>
<path d="M80.4,297 l0,1.8 l6,0.4 l0,-1.4" fill="none" stroke="#3a3a3a" stroke-width="0.6"/>
<line x1="84.6" y1="287.2" x2="119.4" y2="287.2" stroke="#3a3a3a" stroke-width="0.8"/>
<line x1="100.1" y1="303.2" x2="108.5" y2="303.2" stroke="#3a3a3a" stroke-width="0.6"/>
<line x1="100.1" y1="305.8" x2="108.5" y2="305.8" stroke="#3a3a3a" stroke-width="0.6"/>
<line x1="108.5" y1="300" x2="108.5" y2="321.4" stroke="#3a3a3a" stroke-width="0.7"/>
<line x1="118.2" y1="300" x2="118.2" y2="321.4" stroke="#3a3a3a" stroke-width="0.7"/>
<path d="M118.2,321.4 Q123.4,321 127.4,318" fill="none" stroke="#3a3a3a" stroke-width="0.6"/>
<path d="M127.4,287.2 Q132.4,291 135.4,298" fill="none" stroke="#3a3a3a" stroke-width="0.6"/>
<rect x="152.4" y="263.2" width="62" height="5.6" rx="0" fill="none" stroke="#3a3a3a" stroke-width="0.8"/>
<line x1="152.4" y1="261" x2="152.4" y2="263.2" stroke="#3a3a3a" stroke-width="0.75"/>
<line x1="214.4" y1="261" x2="214.4" y2="263.2" stroke="#3a3a3a" stroke-width="0.75"/>
<line x1="203.7" y1="268.8" x2="203.7" y2="279.1" stroke="#3a3a3a" stroke-width="0.75"/>
<line x1="169.9" y1="268.8" x2="169.9" y2="279.1" stroke="#3a3a3a" stroke-width="0.75"/>
<circle cx="190.6" cy="275.8" r="2" fill="none" stroke="#222" stroke-width="1.3"/>
<line x1="186.6" y1="269.5" x2="194.6" y2="269.5" stroke="#3a3a3a" stroke-width="0.6"/>
<rect x="164.6" y="279.1" width="47.1" height="3.1" rx="0" fill="none" stroke="#3a3a3a" stroke-width="0.8"/>
<path d="M207.6,279.1 a1.5,1.2 0 0 1 3,0" fill="none" stroke="#3a3a3a" stroke-width="0.6"/>
<path d="M192.1,279.1 a1.5,1.2 0 0 1 3,0" fill="none" stroke="#3a3a3a" stroke-width="0.6"/>
<path d="M171.6,279.1 a1.5,1.2 0 0 1 3,0" fill="none" stroke="#3a3a3a" stroke-width="0.6"/>
<rect x="189.2" y="282.2" width="21.2" height="4.7" rx="0" fill="none" stroke="#3a3a3a" stroke-width="0.7"/>
<line x1="194.5" y1="282.2" x2="194.5" y2="286.9" stroke="#3a3a3a" stroke-width="0.6"/>
<path d="M175.6,287.6 L219,288.1 Q221.9,288.4 221.9,291.5 L221.9,294.6 Q219.5,300.5 214.9,301.9 L196,302.6 C191,304 189,312 186.6,321" fill="none" stroke="#3a3a3a" stroke-width="0.85"/>
<path d="M213.6,301.4 l-0.4,1.6 l-6,0.2 l0,-1.2" fill="none" stroke="#3a3a3a" stroke-width="0.6"/>
<line x1="186.6" y1="303" x2="186.6" y2="321" stroke="#3a3a3a" stroke-width="0.7"/>
<line x1="177" y1="303" x2="177" y2="321" stroke="#3a3a3a" stroke-width="0.7"/>
<line x1="177" y1="321" x2="186.6" y2="321" stroke="#3a3a3a" stroke-width="0.8"/>
<line x1="177" y1="302.6" x2="196" y2="302.6" stroke="#3a3a3a" stroke-width="0.7"/>
<path d="M177,321 Q171.6,321 167.6,318" fill="none" stroke="#3a3a3a" stroke-width="0.6"/>
<path d="M167.6,287.6 Q162.6,291 159.6,298" fill="none" stroke="#3a3a3a" stroke-width="0.6"/>
<rect x="142.4" y="259.5" width="9.5" height="10" rx="0" fill="none" stroke="#3a3a3a" stroke-width="0.8"/>
<line x1="143.8" y1="259.5" x2="143.8" y2="269.5" stroke="#3a3a3a" stroke-width="0.5"/>
<line x1="150.5" y1="259.5" x2="150.5" y2="269.5" stroke="#3a3a3a" stroke-width="0.5"/>
<circle cx="147.8" cy="270.3" r="1.7" fill="none" stroke="#222" stroke-width="1.3"/>
<circle cx="147.8" cy="296.6" r="23.5" fill="none" stroke="#3a3a3a" stroke-width="0.9"/>
<circle cx="147.8" cy="296.6" r="14" fill="none" stroke="#3a3a3a" stroke-width="0.8"/>
<circle cx="147.8" cy="296.6" r="8.3" fill="none" stroke="#3a3a3a" stroke-width="0.8"/>
<circle cx="135.4" cy="284.2" r="2.5" fill="none" stroke="#3a3a3a" stroke-width="0.8"/>
<circle cx="135.4" cy="309" r="2.5" fill="none" stroke="#3a3a3a" stroke-width="0.8"/>
<circle cx="160.2" cy="284.2" r="2.5" fill="none" stroke="#3a3a3a" stroke-width="0.8"/>
<circle cx="160.2" cy="309" r="2.5" fill="none" stroke="#3a3a3a" stroke-width="0.8"/>
<line x1="147.8" y1="254" x2="147.8" y2="324" stroke="#333" stroke-width="0.6" stroke-dasharray="7,1.5,1.2,1.5"/>
<line x1="123.8" y1="296.6" x2="172.8" y2="296.6" stroke="#444" stroke-width="0.55" stroke-dasharray="7,1.5,1.2,1.5"/>
<line x1="72" y1="321.9" x2="117" y2="321.9" stroke="#3a3a3a" stroke-width="0.85"/>
<path d="M117,321.6 Q147.8,316 177,321" fill="none" stroke="#3a3a3a" stroke-width="0.6"/>
</g>
<line x1="118.7" y1="401.2" x2="118.7" y2="466" stroke="#333" stroke-width="0.65"/>
<line x1="118.7" y1="466" x2="118.7" y2="613.5" stroke="#333" stroke-width="0.65" stroke-dasharray="10,1.6,1.2,1.6"/>
<line x1="187.1" y1="428.4" x2="187.1" y2="466" stroke="#333" stroke-width="0.65"/>
<line x1="187.1" y1="466" x2="187.1" y2="613.5" stroke="#333" stroke-width="0.65" stroke-dasharray="10,1.6,1.2,1.6"/>
<line x1="56.2" y1="567.4" x2="131" y2="567.4" stroke="#444" stroke-width="0.6"/>
<line x1="118.7" y1="404.5" x2="187.1" y2="404.5" stroke="#4a4a4a" stroke-width="0.7"/>
<polygon points="118.7,404.5 124.2,402.9 124.2,406.1" fill="#222"/>
<polygon points="187.1,404.5 181.6,402.9 181.6,406.1" fill="#222"/>
<line x1="187.1" y1="401.8" x2="187.1" y2="410.5" stroke="#4a4a4a" stroke-width="0.7"/>
<text x="154.5" y="402" font-size="11.8" text-anchor="middle" fill="#1a1a1a">s</text>
<line x1="157.3" y1="426.9" x2="217.3" y2="426.9" stroke="#4a4a4a" stroke-width="0.7"/>
<polygon points="157.3,426.9 162.8,425.3 162.8,428.5" fill="#222"/>
<polygon points="217.3,426.9 211.8,425.3 211.8,428.5" fill="#222"/>
<line x1="157.3" y1="423.9" x2="157.3" y2="449.4" stroke="#4a4a4a" stroke-width="0.7"/>
<line x1="217.3" y1="423.9" x2="217.3" y2="449.4" stroke="#4a4a4a" stroke-width="0.7"/>
<text x="188.5" y="421.5" font-size="11.8" text-anchor="middle" fill="#1a1a1a">Øg</text>
<line x1="56.2" y1="436.8" x2="95" y2="436.8" stroke="#4a4a4a" stroke-width="0.7"/>
<line x1="56.2" y1="454" x2="95" y2="454" stroke="#4a4a4a" stroke-width="0.7"/>
<line x1="59" y1="421.3" x2="59" y2="436.8" stroke="#4a4a4a" stroke-width="0.7"/>
<polygon points="59,436.8 57.4,431.3 60.6,431.3" fill="#222"/>
<text x="61.9" y="444.6" font-size="12" text-anchor="middle" fill="#1a1a1a" transform="rotate(-90 61.9 444.6)">x</text>
<line x1="59" y1="454" x2="59" y2="567.4" stroke="#4a4a4a" stroke-width="0.7"/>
<polygon points="59,454 57.4,459.5 60.6,459.5" fill="#222"/>
<polygon points="59,567.4 57.4,561.9 60.6,561.9" fill="#222"/>
<text x="54.1" y="514.6" font-size="12" fill="#1a1a1a" transform="rotate(-90 54.1 514.6)">l<tspan font-size="9.5" dy="1.5">1</tspan></text>
<line x1="59" y1="567.4" x2="59" y2="591" stroke="#4a4a4a" stroke-width="0.7"/>
<polygon points="59,567.4 57.4,572.9 60.6,572.9" fill="#222"/>
<polygon points="59,591 57.4,585.5 60.6,585.5" fill="#222"/>
<text x="55.5" y="578.7" font-size="12" text-anchor="middle" fill="#1a1a1a" transform="rotate(-90 55.5 578.7)">a</text>
<line x1="56.2" y1="591" x2="118" y2="591" stroke="#3a3a3a" stroke-width="0.8"/>
<line x1="84.6" y1="569.9" x2="84.6" y2="588.5" stroke="#4a4a4a" stroke-width="0.7"/>
<line x1="84.6" y1="594.5" x2="84.6" y2="632.6" stroke="#4a4a4a" stroke-width="0.7"/>
<line x1="223" y1="559.8" x2="223" y2="631.6" stroke="#4a4a4a" stroke-width="0.7"/>
<line x1="84.6" y1="610.3" x2="117.3" y2="610.3" stroke="#4a4a4a" stroke-width="0.7"/>
<polygon points="84.6,610.3 90.1,608.7 90.1,611.9" fill="#222"/>
<polygon points="117.3,610.3 111.8,608.7 111.8,611.9" fill="#222"/>
<line x1="187.3" y1="610.3" x2="223" y2="610.3" stroke="#4a4a4a" stroke-width="0.7"/>
<polygon points="187.3,610.3 192.8,608.7 192.8,611.9" fill="#222"/>
<polygon points="223,610.3 217.5,608.7 217.5,611.9" fill="#222"/>
<line x1="118.7" y1="593" x2="118.7" y2="613.3" stroke="#4a4a4a" stroke-width="0.7"/>
<line x1="187.1" y1="593" x2="187.1" y2="613.3" stroke="#4a4a4a" stroke-width="0.7"/>
<line x1="84.6" y1="628.6" x2="223" y2="628.6" stroke="#4a4a4a" stroke-width="0.7"/>
<polygon points="84.6,628.6 90.1,627 90.1,630.2" fill="#222"/>
<polygon points="223,628.6 217.5,627 217.5,630.2" fill="#222"/>
<text x="95.6" y="606.5" font-size="12" fill="#1a1a1a">b<tspan font-size="9.5" dy="1">1</tspan></text>
<text x="199.6" y="606.5" font-size="12" fill="#1a1a1a">b<tspan font-size="9.5" dy="1">2</tspan></text>
<text x="142.2" y="624.5" font-size="11.5" fill="#1a1a1a">b<tspan font-size="10.3" dy="1.8">max</tspan></text>
<text x="127.3" y="608.6" font-size="10.6" text-anchor="start" fill="#1a1a1a" letter-spacing="-0.3">3xM10x20</text>
<line x1="142" y1="611.5" x2="175.2" y2="611.5" stroke="#4a4a4a" stroke-width="0.7"/>
<line x1="175.2" y1="611.5" x2="184.8" y2="592.9" stroke="#4a4a4a" stroke-width="0.7"/>
<polygon points="184.8,592.4 183.5,596.4 186.1,596.4" fill="#222"/>
<text x="247.5" y="493.1" font-size="11.3" text-anchor="start" fill="#1a1a1a">Th</text>
<line x1="244.4" y1="495.6" x2="257.5" y2="495.6" stroke="#4a4a4a" stroke-width="0.7"/>
<line x1="244.4" y1="495.6" x2="230.6" y2="514.4" stroke="#4a4a4a" stroke-width="0.6"/>
<line x1="244.4" y1="495.6" x2="231.9" y2="518.75" stroke="#4a4a4a" stroke-width="0.6"/>
<g transform="translate(382.8,536.4) scale(0.96) translate(-383.6,-264.3)" class="ns">
<circle cx="348.1" cy="264.3" r="24.6" fill="none" stroke="#3a3a3a" stroke-width="0.85"/>
<circle cx="348.1" cy="264.3" r="30.8" fill="none" stroke="#3a3a3a" stroke-width="0.85"/>
<circle cx="348.1" cy="264.3" r="33" fill="none" stroke="#333" stroke-width="1.05"/>
<path d="M340.1,228.8 C320.35,230.3 311.1,250.3 311.1,264.3 C311.1,278.3 320.35,298.3 340.1,299.8" fill="none" stroke="#3a3a3a" stroke-width="0.8"/>
<circle cx="419.1" cy="264.3" r="24.6" fill="none" stroke="#3a3a3a" stroke-width="0.85"/>
<circle cx="419.1" cy="264.3" r="30.8" fill="none" stroke="#3a3a3a" stroke-width="0.85"/>
<circle cx="419.1" cy="264.3" r="33" fill="none" stroke="#333" stroke-width="1.05"/>
<path d="M427.1,230.8 C445.35,232.3 454.1,250.3 454.1,264.3 C454.1,278.3 445.35,296.3 427.1,297.8" fill="none" stroke="#3a3a3a" stroke-width="0.8"/>
<circle cx="348.1" cy="250.3" r="4.3" fill="none" stroke="#3a3a3a" stroke-width="0.8"/>
<line x1="348.1" y1="244" x2="348.1" y2="257" stroke="#3a3a3a" stroke-width="0.6"/>
<line x1="348.1" y1="225" x2="348.1" y2="306" stroke="#444" stroke-width="0.6" stroke-dasharray="7,1.5,1.2,1.5"/>
<circle cx="419.1" cy="250.3" r="4.3" fill="none" stroke="#3a3a3a" stroke-width="0.8"/>
<line x1="419.1" y1="244" x2="419.1" y2="257" stroke="#3a3a3a" stroke-width="0.6"/>
<line x1="419.1" y1="225" x2="419.1" y2="306" stroke="#444" stroke-width="0.6" stroke-dasharray="7,1.5,1.2,1.5"/>
<path d="M359.7,300.8 L359.7,304.5 Q359.7,307 362,307 L405,307 Q407.3,307 407.3,304.5 L407.3,300" fill="none" stroke="#3a3a3a" stroke-width="0.8"/>
<line x1="359.7" y1="302" x2="407.3" y2="302" stroke="#3a3a3a" stroke-width="0.6"/>
<line x1="383.3" y1="198" x2="383.3" y2="330" stroke="#444" stroke-width="0.6" stroke-dasharray="7,1.5,1.2,1.5"/>
<rect x="381.7" y="213" width="3.2" height="5.5" rx="0" fill="#333" stroke="#3a3a3a" stroke-width="0"/>
<path d="M383.3,218.5 c4.2,0 4.2,4.2 0,4.2 c-4.2,0 -4.2,4.2 0,4.2 c4.2,0 4.2,4.2 0,4.2 c-4.2,0 -4.2,4.2 0,4.2" fill="none" stroke="#222" stroke-width="1.1"/>
<rect x="381.7" y="236.5" width="3.2" height="4.5" rx="0" fill="#333" stroke="#3a3a3a" stroke-width="0"/>
<rect x="379.8" y="242.4" width="7.8" height="7.8" rx="0" fill="none" stroke="#3a3a3a" stroke-width="0.8"/>
<line x1="379.8" y1="246.3" x2="387.6" y2="246.3" stroke="#3a3a3a" stroke-width="0.6"/>
<line x1="383.7" y1="242.4" x2="383.7" y2="250.2" stroke="#3a3a3a" stroke-width="0.6"/>
<rect x="380" y="250.2" width="7.4" height="8.4" rx="0" fill="#ddd" stroke="#3a3a3a" stroke-width="0.7"/>
<line x1="380" y1="252.3" x2="387.4" y2="252.3" stroke="#444" stroke-width="0.8"/>
<line x1="380" y1="254.4" x2="387.4" y2="254.4" stroke="#444" stroke-width="0.8"/>
<line x1="380" y1="256.5" x2="387.4" y2="256.5" stroke="#444" stroke-width="0.8"/>
<path d="M383.3,258.6 C390.3,258.5 390.3,263.8 383.3,262.8 C376.3,261.8 376.8,266.2 383.3,265.6 C390.3,265.1 390.3,270.4 383.3,269.4 C376.3,268.4 376.8,272.8 383.3,272.2 C390.3,271.7 390.3,277 383.3,276 C376.3,275 376.8,279.4 383.3,278.8 C390.3,278.3 390.3,283.6 383.3,282.6 C376.3,281.6 376.8,286 383.3,285.4 C390.3,284.9 390.3,290.2 383.3,289.2 C376.3,288.2 376.8,292.6 383.3,292" fill="none" stroke="#222" stroke-width="1.0"/>
<line x1="383.3" y1="292" x2="383.3" y2="297" stroke="#222" stroke-width="1.0"/>
<circle cx="383.3" cy="301.2" r="3.8" fill="none" stroke="#222" stroke-width="1.1"/>
<circle cx="383.3" cy="301.2" r="1.8" fill="#222" stroke="#3a3a3a" stroke-width="0"/>
<polygon points="381.5,296.5 385.1,296.5 383.3,299.5" fill="#222" stroke="#3a3a3a" stroke-width="0"/>
<rect x="361.9" y="209.7" width="43.8" height="3.7" rx="0" fill="none" stroke="#3a3a3a" stroke-width="0.7"/>
</g>
<g transform="translate(348.1,536.4) rotate(-16) scale(0.96) translate(0,-1.0) translate(-348.1,-264.3)" class="ns">
<rect x="319.1" y="191.9" width="4.2" height="5.1" rx="1" fill="none" stroke="#3a3a3a" stroke-width="0.8"/>
<rect x="372.3" y="191.9" width="5.2" height="5.1" rx="1" fill="none" stroke="#3a3a3a" stroke-width="0.8"/>
<circle cx="375.7" cy="193.5" r="0.5" fill="#333" stroke="#3a3a3a" stroke-width="0"/>
<circle cx="375.7" cy="195.5" r="0.5" fill="#333" stroke="#3a3a3a" stroke-width="0"/>
<rect x="323.3" y="187" width="48.5" height="13.1" rx="1.5" fill="none" stroke="#3a3a3a" stroke-width="0.8"/>
<line x1="328.4" y1="188" x2="367.7" y2="188" stroke="#1e1e1e" stroke-width="1.9"/>
<line x1="328.4" y1="189.9" x2="367.7" y2="189.9" stroke="#444" stroke-width="0.9"/>
<rect x="332" y="190.8" width="31" height="7.8" rx="1" fill="none" stroke="#333" stroke-width="0.8"/>
<rect x="335.1" y="188.9" width="11" height="1.5" rx="0" fill="none" stroke="#555" stroke-width="0.5"/>
<rect x="354.1" y="188.9" width="6" height="1.5" rx="0" fill="none" stroke="#555" stroke-width="0.5"/>
<line x1="328.9" y1="189.6" x2="328.9" y2="200.1" stroke="#3a3a3a" stroke-width="0.6"/>
<line x1="368.2" y1="189.6" x2="368.2" y2="200.1" stroke="#3a3a3a" stroke-width="0.6"/>
<path d="M321.7,201.5 L373.2,201.5 L373.2,225 L372.8,232 L322.7,232 L321.7,225 Z" fill="none" stroke="#3a3a3a" stroke-width="0.9"/>
<line x1="321.7" y1="203.5" x2="373.2" y2="203.5" stroke="#3a3a3a" stroke-width="0.6"/>
<path d="M322.3,224.2 Q348.1,220.8 373.3,224.2" fill="none" stroke="#3a3a3a" stroke-width="0.7"/>
<path d="M327.9,226.6 Q348.1,225.2 367.1,226.6" fill="none" stroke="#3a3a3a" stroke-width="0.6"/>
<path d="M328.5,226.4 l0.7,5 M330.61,226.4 l0.7,5 M332.72,226.4 l0.7,5 M334.83,226.4 l0.7,5 M336.94,226.4 l0.7,5 M339.06,226.4 l0.7,5 M341.17,226.4 l0.7,5 M343.28,226.4 l0.7,5 M345.39,226.4 l0.7,5 M347.5,226.4 l0.7,5 M349.61,226.4 l0.7,5 M351.72,226.4 l0.7,5 M353.83,226.4 l0.7,5 M355.94,226.4 l0.7,5 M358.06,226.4 l0.7,5 M360.17,226.4 l0.7,5 M362.28,226.4 l0.7,5 M364.39,226.4 l0.7,5 M366.5,226.4 l0.7,5" fill="none" stroke="#2a2a2a" stroke-width="1.05"/>
<line x1="327.9" y1="229" x2="367.1" y2="229" stroke="#333" stroke-width="0.6"/>
<line x1="330.5" y1="232" x2="330.5" y2="239" stroke="#3a3a3a" stroke-width="0.7"/>
<line x1="365.6" y1="232" x2="365.6" y2="239" stroke="#3a3a3a" stroke-width="0.7"/>
<polyline points="330.5,237.8 323.8,237.8 323.8,243 329.1,243" fill="none" stroke="#3a3a3a" stroke-width="0.7"/>
<polyline points="365.6,237.8 372.3,237.8 372.3,243 367.1,243" fill="none" stroke="#3a3a3a" stroke-width="0.7"/>
<line x1="348.1" y1="190" x2="348.1" y2="262" stroke="#444" stroke-width="0.6" stroke-dasharray="7,1.5,1.2,1.5"/>
</g>
<g transform="translate(417.5,536.4) rotate(16) scale(0.96) translate(0,-1.0) translate(-419.1,-264.3)" class="ns">
<rect x="390.1" y="191.9" width="4.2" height="5.1" rx="1" fill="none" stroke="#3a3a3a" stroke-width="0.8"/>
<rect x="443.3" y="191.9" width="5.2" height="5.1" rx="1" fill="none" stroke="#3a3a3a" stroke-width="0.8"/>
<circle cx="446.7" cy="193.5" r="0.5" fill="#333" stroke="#3a3a3a" stroke-width="0"/>
<circle cx="446.7" cy="195.5" r="0.5" fill="#333" stroke="#3a3a3a" stroke-width="0"/>
<rect x="394.3" y="187" width="48.5" height="13.1" rx="1.5" fill="none" stroke="#3a3a3a" stroke-width="0.8"/>
<line x1="399.4" y1="188" x2="438.7" y2="188" stroke="#1e1e1e" stroke-width="1.9"/>
<line x1="399.4" y1="189.9" x2="438.7" y2="189.9" stroke="#444" stroke-width="0.9"/>
<rect x="403" y="190.8" width="31" height="7.8" rx="1" fill="none" stroke="#333" stroke-width="0.8"/>
<rect x="406.1" y="188.9" width="11" height="1.5" rx="0" fill="none" stroke="#555" stroke-width="0.5"/>
<rect x="425.1" y="188.9" width="6" height="1.5" rx="0" fill="none" stroke="#555" stroke-width="0.5"/>
<line x1="399.9" y1="189.6" x2="399.9" y2="200.1" stroke="#3a3a3a" stroke-width="0.6"/>
<line x1="439.2" y1="189.6" x2="439.2" y2="200.1" stroke="#3a3a3a" stroke-width="0.6"/>
<path d="M392.7,201.5 L444.2,201.5 L444.2,225 L443.8,232 L393.7,232 L392.7,225 Z" fill="none" stroke="#3a3a3a" stroke-width="0.9"/>
<line x1="392.7" y1="203.5" x2="444.2" y2="203.5" stroke="#3a3a3a" stroke-width="0.6"/>
<path d="M393.3,224.2 Q419.1,220.8 444.3,224.2" fill="none" stroke="#3a3a3a" stroke-width="0.7"/>
<path d="M398.9,226.6 Q419.1,225.2 438.1,226.6" fill="none" stroke="#3a3a3a" stroke-width="0.6"/>
<path d="M399.5,226.4 l0.7,5 M401.61,226.4 l0.7,5 M403.72,226.4 l0.7,5 M405.83,226.4 l0.7,5 M407.94,226.4 l0.7,5 M410.06,226.4 l0.7,5 M412.17,226.4 l0.7,5 M414.28,226.4 l0.7,5 M416.39,226.4 l0.7,5 M418.5,226.4 l0.7,5 M420.61,226.4 l0.7,5 M422.72,226.4 l0.7,5 M424.83,226.4 l0.7,5 M426.94,226.4 l0.7,5 M429.06,226.4 l0.7,5 M431.17,226.4 l0.7,5 M433.28,226.4 l0.7,5 M435.39,226.4 l0.7,5 M437.5,226.4 l0.7,5" fill="none" stroke="#2a2a2a" stroke-width="1.05"/>
<line x1="398.9" y1="229" x2="438.1" y2="229" stroke="#333" stroke-width="0.6"/>
<line x1="401.5" y1="232" x2="401.5" y2="239" stroke="#3a3a3a" stroke-width="0.7"/>
<line x1="436.6" y1="232" x2="436.6" y2="239" stroke="#3a3a3a" stroke-width="0.7"/>
<polyline points="401.5,237.8 394.8,237.8 394.8,243 400.1,243" fill="none" stroke="#3a3a3a" stroke-width="0.7"/>
<polyline points="436.6,237.8 443.3,237.8 443.3,243 438.1,243" fill="none" stroke="#3a3a3a" stroke-width="0.7"/>
<line x1="419.1" y1="190" x2="419.1" y2="262" stroke="#444" stroke-width="0.6" stroke-dasharray="7,1.5,1.2,1.5"/>
</g>
<line x1="284.1" y1="536.3" x2="312" y2="536.3" stroke="#444" stroke-width="0.6"/>
<line x1="312" y1="536.3" x2="478" y2="536.3" stroke="#444" stroke-width="0.6" stroke-dasharray="7,1.5,1.2,1.5"/>
<line x1="297.9" y1="522.6" x2="312" y2="522.6" stroke="#444" stroke-width="0.6"/>
<line x1="312" y1="522.6" x2="460" y2="522.6" stroke="#444" stroke-width="0.6" stroke-dasharray="7,1.5,1.2,1.5"/>
<line x1="271.3" y1="484" x2="326" y2="484" stroke="#4a4a4a" stroke-width="0.7"/>
<line x1="297.9" y1="571.9" x2="360" y2="571.9" stroke="#4a4a4a" stroke-width="0.7"/>
<line x1="270.9" y1="576.8" x2="360" y2="576.8" stroke="#4a4a4a" stroke-width="0.7"/>
<polygon points="382.4,464.8 379.6,472.8 385.2,472.8" fill="#111"/>
<line x1="382.4" y1="472" x2="382.4" y2="480" stroke="#333" stroke-width="0.8" stroke-dasharray="2,1.5"/>
<polygon points="382.4,585.6 379.6,593.6 385.2,593.6" fill="#111"/>
<line x1="382.4" y1="593" x2="382.4" y2="599" stroke="#333" stroke-width="0.8" stroke-dasharray="2,1.5"/>
<line x1="303.9" y1="441.2" x2="303.9" y2="480.2" stroke="#4a4a4a" stroke-width="0.7"/>
<line x1="462.9" y1="441" x2="462.9" y2="481.6" stroke="#4a4a4a" stroke-width="0.7"/>
<line x1="303.9" y1="444" x2="462.9" y2="444" stroke="#4a4a4a" stroke-width="0.7"/>
<polygon points="303.9,444 309.4,442.4 309.4,445.6" fill="#222"/>
<polygon points="462.9,444 457.4,442.4 457.4,445.6" fill="#222"/>
<text x="382.8" y="442" font-size="12" text-anchor="middle" fill="#1a1a1a">h</text>
<line x1="273.8" y1="484" x2="273.8" y2="577" stroke="#4a4a4a" stroke-width="0.7"/>
<polygon points="273.8,484 272.2,489.5 275.4,489.5" fill="#222"/>
<polygon points="273.8,577 272.2,571.5 275.4,571.5" fill="#222"/>
<text x="269.5" y="535.5" font-size="12" fill="#1a1a1a" transform="rotate(-90 269.5 535.5)">l<tspan font-size="10.5" dy="2">o</tspan></text>
<line x1="287" y1="484" x2="287" y2="536.2" stroke="#4a4a4a" stroke-width="0.7"/>
<polygon points="287,484 285.4,489.5 288.6,489.5" fill="#222"/>
<polygon points="287,536.2 285.4,530.7 288.6,530.7" fill="#222"/>
<text x="284.6" y="509.8" font-size="12" text-anchor="middle" fill="#1a1a1a" transform="rotate(-90 284.6 509.8)">m</text>
<line x1="300.4" y1="510.4" x2="300.4" y2="523" stroke="#4a4a4a" stroke-width="0.7"/>
<polygon points="300.4,523 298.8,517.5 302,517.5" fill="#222"/>
<text x="301.4" y="528.5" font-size="12" text-anchor="middle" fill="#1a1a1a" transform="rotate(-90 301.4 528.5)">e</text>
<line x1="300.4" y1="536.2" x2="300.4" y2="571.8" stroke="#4a4a4a" stroke-width="0.7"/>
<polygon points="300.4,536.2 298.8,541.7 302,541.7" fill="#222"/>
<polygon points="300.4,571.8 298.8,566.3 302,566.3" fill="#222"/>
<text x="297.9" y="554.8" font-size="12" text-anchor="middle" fill="#1a1a1a" transform="rotate(-90 297.9 554.8)">f</text>
<line x1="419.6" y1="458.6" x2="477" y2="458.6" stroke="#4a4a4a" stroke-width="0.7"/>
<line x1="455" y1="536.4" x2="477" y2="536.4" stroke="#4a4a4a" stroke-width="0.7"/>
<line x1="474.4" y1="458.6" x2="474.4" y2="536" stroke="#4a4a4a" stroke-width="0.7"/>
<polygon points="474.4,458.6 472.8,464.1 476,464.1" fill="#222"/>
<polygon points="474.4,536 472.8,530.5 476,530.5" fill="#222"/>
<text x="469.6" y="504" font-size="12" fill="#1a1a1a" transform="rotate(-90 469.6 504)">b<tspan font-size="10" dy="1.3">4</tspan></text>
<path d="M521.94,505.56 A35.32,35.32 0 0 0 494.72,536.4 A35.32,35.32 0 0 0 529.75,571.72 L553.36,571.72" fill="none" stroke="#555" stroke-width="0.8" stroke-dasharray="2.3,1.6"/>
<path d="M585.92,499.37 A36.18,36.18 0 0 1 632.57,536.4 A36.18,36.18 0 0 1 592.2,571.72 L569.83,571.72" fill="none" stroke="#555" stroke-width="0.8" stroke-dasharray="2.3,1.6"/>
<polyline points="540.98,490.8 538.89,486.99 540.03,485.18 585.16,485.18 583.35,490.8 540.98,490.8" fill="none" stroke="#555" stroke-width="0.8" stroke-dasharray="2.3,1.6"/>
<path d="M546.7,490.8 Q542.89,499.84 539.65,511.84 L536.8,513.65" fill="none" stroke="#555" stroke-width="0.8" stroke-dasharray="2.3,1.6"/>
<line x1="576.11" y1="490.8" x2="585.92" y2="499.37" stroke="#555" stroke-width="0.8" stroke-dasharray="2.3,1.6"/>
<rect x="522.04" y="504.79" width="14.76" height="23.9" rx="0" fill="none" stroke="#555" stroke-width="0.7" stroke-dasharray="2,1.4"/>
<rect x="587.35" y="504.79" width="13.33" height="23.9" rx="0" fill="none" stroke="#555" stroke-width="0.7" stroke-dasharray="2,1.4"/>
<rect x="553.65" y="567.44" width="16.18" height="23.23" rx="0" fill="none" stroke="#555" stroke-width="0.7" stroke-dasharray="2,1.4"/>
<line x1="522.04" y1="516.5" x2="536.8" y2="516.5" stroke="#555" stroke-width="0.6" stroke-dasharray="2,1.4"/>
<line x1="587.35" y1="516.5" x2="600.68" y2="516.5" stroke="#555" stroke-width="0.6" stroke-dasharray="2,1.4"/>
<line x1="553.65" y1="578.86" x2="569.83" y2="578.86" stroke="#555" stroke-width="0.6" stroke-dasharray="2,1.4"/>
<polyline points="538.89,571.72 540.03,576.57 584.49,576.57 584.49,571.72" fill="none" stroke="#555" stroke-width="0.8" stroke-dasharray="2.3,1.6"/>
<circle cx="529.08" cy="508.98" r="2.19" fill="none" stroke="#444" stroke-width="0.7"/>
<circle cx="595.06" cy="510.03" r="2.19" fill="none" stroke="#444" stroke-width="0.7"/>
<circle cx="562.5" cy="585.71" r="2.19" fill="none" stroke="#444" stroke-width="0.7"/>
<circle cx="529.08" cy="523.45" r="4.09" fill="none" stroke="#333" stroke-width="0.9"/>
<circle cx="529.08" cy="523.45" r="1.05" fill="#222" stroke="#3a3a3a" stroke-width="0"/>
<circle cx="595.06" cy="523.45" r="4.09" fill="none" stroke="#333" stroke-width="0.9"/>
<circle cx="595.06" cy="523.45" r="1.05" fill="#222" stroke="#3a3a3a" stroke-width="0"/>
<circle cx="562.5" cy="572.1" r="4.09" fill="none" stroke="#333" stroke-width="0.9"/>
<circle cx="562.5" cy="572.1" r="1.05" fill="#222" stroke="#3a3a3a" stroke-width="0"/>
<line x1="529.08" y1="471.76" x2="529.08" y2="531.45" stroke="#4a4a4a" stroke-width="0.7"/>
<line x1="595.06" y1="471.76" x2="595.06" y2="531.45" stroke="#4a4a4a" stroke-width="0.7"/>
<line x1="533.18" y1="523.45" x2="620.95" y2="523.45" stroke="#4a4a4a" stroke-width="0.7"/>
<line x1="579.54" y1="510.03" x2="597.15" y2="510.03" stroke="#4a4a4a" stroke-width="0.7"/>
<line x1="562.5" y1="572.1" x2="620.95" y2="572.1" stroke="#4a4a4a" stroke-width="0.7"/>
<line x1="528.42" y1="583.62" x2="565.74" y2="583.62" stroke="#4a4a4a" stroke-width="0.7"/>
<line x1="528.42" y1="588.57" x2="565.74" y2="588.57" stroke="#4a4a4a" stroke-width="0.7"/>
<line x1="562.5" y1="586.19" x2="595.72" y2="586.19" stroke="#4a4a4a" stroke-width="0.7"/>
<line x1="491.2" y1="536.4" x2="635.71" y2="536.4" stroke="#444" stroke-width="0.6" stroke-dasharray="7,1.5,1.2,1.5"/>
<line x1="562.5" y1="478.9" x2="562.5" y2="609.32" stroke="#444" stroke-width="0.6" stroke-dasharray="7,1.5,1.2,1.5"/>
<line x1="562.5" y1="454.05" x2="562.5" y2="460.24" stroke="#333" stroke-width="0.8" stroke-dasharray="2.2,1.5"/>
<polygon points="562.5,445.96 559.7,454.05 565.3,454.05" fill="#111"/>
<polygon points="562.5,596.28 559.7,604.37 565.3,604.37" fill="#111"/>
<line x1="529.08" y1="474.14" x2="595.06" y2="474.14" stroke="#4a4a4a" stroke-width="0.7"/>
<polygon points="529.08,474.14 534.58,472.54 534.58,475.74" fill="#222"/>
<polygon points="595.06,474.14 589.56,472.54 589.56,475.74" fill="#222"/>
<text x="562.88" y="471.28" font-size="12" text-anchor="middle" fill="#1a1a1a">c</text>
<line x1="582.11" y1="497.08" x2="582.11" y2="510.03" stroke="#4a4a4a" stroke-width="0.7"/>
<polygon points="582.11,510.03 580.51,504.53 583.71,504.53" fill="#222"/>
<line x1="582.11" y1="523.45" x2="582.11" y2="539.83" stroke="#4a4a4a" stroke-width="0.7"/>
<polygon points="582.11,523.45 580.51,528.95 583.71,528.95" fill="#222"/>
<text x="578.11" y="515.08" font-size="12" text-anchor="middle" fill="#1a1a1a" transform="rotate(-90 578.11 515.08)">50</text>
<line x1="618.19" y1="511.08" x2="618.19" y2="523.45" stroke="#4a4a4a" stroke-width="0.7"/>
<polygon points="618.19,523.45 616.59,517.95 619.79,517.95" fill="#222"/>
<text x="619.87" y="528.97" font-size="12" text-anchor="middle" fill="#1a1a1a" transform="rotate(-90 619.87 528.97)">e</text>
<line x1="618.19" y1="536.59" x2="618.19" y2="572.1" stroke="#4a4a4a" stroke-width="0.7"/>
<polygon points="618.19,536.59 616.59,542.09 619.79,542.09" fill="#222"/>
<polygon points="618.19,572.1 616.59,566.6 619.79,566.6" fill="#222"/>
<text x="614.76" y="554.39" font-size="12" text-anchor="middle" fill="#1a1a1a" transform="rotate(-90 614.76 554.39)">f</text>
<line x1="592.96" y1="559.72" x2="592.96" y2="572.1" stroke="#4a4a4a" stroke-width="0.7"/>
<polygon points="592.96,572.1 591.36,566.6 594.56,566.6" fill="#222"/>
<line x1="592.96" y1="586.19" x2="592.96" y2="598.38" stroke="#4a4a4a" stroke-width="0.7"/>
<polygon points="592.96,586.19 591.36,591.69 594.56,591.69" fill="#222"/>
<text x="606.48" y="580.48" font-size="12" text-anchor="middle" fill="#1a1a1a" transform="rotate(-90 606.48 580.48)">50</text>
<line x1="531.94" y1="567.44" x2="531.94" y2="583.62" stroke="#4a4a4a" stroke-width="0.7"/>
<polygon points="531.94,583.62 530.34,578.12 533.54,578.12" fill="#222"/>
<line x1="531.94" y1="588.57" x2="531.94" y2="601.9" stroke="#4a4a4a" stroke-width="0.7"/>
<polygon points="531.94,588.57 530.34,594.07 533.54,594.07" fill="#222"/>
<text x="526.7" y="587.9" font-size="12" text-anchor="middle" fill="#1a1a1a" transform="rotate(-90 526.7 587.9)">Ø18</text>
<path d="M111.5,723.4 L115.8,716 Q117.6,713.1 121,713.1 L157,713.1 Q160.6,713.1 162.2,716 L165.5,723.4" fill="none" stroke="#555" stroke-width="0.8" stroke-dasharray="2.3,1.6"/>
<line x1="111.5" y1="723.4" x2="165.5" y2="723.4" stroke="#555" stroke-width="0.8" stroke-dasharray="2.3,1.6"/>
<line x1="111.5" y1="723.4" x2="111.5" y2="728" stroke="#666" stroke-width="0.7" stroke-dasharray="1.5,1.5"/>
<line x1="165.5" y1="723.4" x2="165.5" y2="728" stroke="#666" stroke-width="0.7" stroke-dasharray="1.5,1.5"/>
<path d="M111.3,741.4 L111.3,738.4 L115.6,731 Q117.4,728.2 120.8,728.2 L156.2,728.2 Q159.6,728.2 161.4,731 L165.9,738.4 L165.9,753.2" fill="none" stroke="#3a3a3a" stroke-width="0.85"/>
<line x1="111.3" y1="738.4" x2="165.9" y2="738.4" stroke="#3a3a3a" stroke-width="0.7"/>
<line x1="133.4" y1="753.2" x2="165.9" y2="753.2" stroke="#3a3a3a" stroke-width="0.8"/>
<rect x="133.4" y="753.2" width="31.7" height="45.3" rx="0" fill="none" stroke="#3a3a3a" stroke-width="0.8"/>
<line x1="135.5" y1="754" x2="135.5" y2="798" stroke="#555" stroke-width="0.55"/>
<line x1="138.1" y1="754" x2="138.1" y2="798" stroke="#555" stroke-width="0.55"/>
<line x1="140.7" y1="754" x2="140.7" y2="798" stroke="#555" stroke-width="0.55"/>
<line x1="143.3" y1="754" x2="143.3" y2="798" stroke="#555" stroke-width="0.55"/>
<line x1="145.9" y1="754" x2="145.9" y2="798" stroke="#555" stroke-width="0.55"/>
<line x1="148.5" y1="754" x2="148.5" y2="798" stroke="#555" stroke-width="0.55"/>
<line x1="151.1" y1="754" x2="151.1" y2="798" stroke="#555" stroke-width="0.55"/>
<line x1="153.7" y1="754" x2="153.7" y2="798" stroke="#555" stroke-width="0.55"/>
<line x1="156.3" y1="754" x2="156.3" y2="798" stroke="#555" stroke-width="0.55"/>
<line x1="158.9" y1="754" x2="158.9" y2="798" stroke="#555" stroke-width="0.55"/>
<line x1="161.5" y1="754" x2="161.5" y2="798" stroke="#555" stroke-width="0.55"/>
<line x1="164.1" y1="754" x2="164.1" y2="798" stroke="#555" stroke-width="0.55"/>
<rect x="115" y="741.4" width="18.4" height="59" rx="0" fill="none" stroke="#3a3a3a" stroke-width="0.9"/>
<line x1="117.9" y1="742" x2="117.9" y2="800" stroke="#3a3a3a" stroke-width="0.6"/>
<line x1="130.5" y1="742" x2="130.5" y2="800" stroke="#3a3a3a" stroke-width="0.6"/>
<rect x="130.8" y="770.6" width="5.7" height="2.2" rx="0" fill="none" stroke="#3a3a3a" stroke-width="0.6"/>
<circle cx="134.2" cy="780.4" r="3.4" fill="none" stroke="#333" stroke-width="0.8"/>
<circle cx="134.2" cy="789.7" r="3.4" fill="none" stroke="#333" stroke-width="0.8"/>
<polygon points="84.4,741.7 115.4,741.7 115.4,801 82.3,800.2 77.7,795.9 82.8,745.3" fill="none" stroke="#222" stroke-width="1.2"/>
<polyline points="84,744 107.5,744 107.5,799 80,798" fill="none" stroke="#666" stroke-width="0.5"/>
<line x1="82" y1="764.4" x2="115" y2="764.4" stroke="#3a3a3a" stroke-width="0.9"/>
<line x1="82.3" y1="761.5" x2="108" y2="761.5" stroke="#555" stroke-width="1.6"/>
<rect x="87" y="742.8" width="19" height="3.7" rx="0" fill="none" stroke="#3a3a3a" stroke-width="0.6"/>
<polygon points="106.5,745 113.3,743 112.5,762.5 107.5,763.5" fill="none" stroke="#3a3a3a" stroke-width="0.7"/>
<circle cx="111.8" cy="784.6" r="2.3" fill="none" stroke="#222" stroke-width="0.9"/>
<circle cx="111.8" cy="793.3" r="2.3" fill="none" stroke="#222" stroke-width="0.9"/>
<circle cx="80.8" cy="767" r="1.1" fill="#222" stroke="#3a3a3a" stroke-width="0"/>
<circle cx="80" cy="797" r="1.1" fill="#222" stroke="#3a3a3a" stroke-width="0"/>
<circle cx="106.5" cy="767" r="1.1" fill="#222" stroke="#3a3a3a" stroke-width="0"/>
<circle cx="106.5" cy="797.5" r="1.1" fill="#222" stroke="#3a3a3a" stroke-width="0"/>
<rect x="76.2" y="770.5" width="2.2" height="5" rx="1" fill="none" stroke="#3a3a3a" stroke-width="0.6"/>
<rect x="76.2" y="786.5" width="2.2" height="5" rx="1" fill="none" stroke="#3a3a3a" stroke-width="0.6"/>
<path d="M227,723.4 L222.7,716 Q220.9,713.1 217.5,713.1 L181.5,713.1 Q177.9,713.1 176.3,716 L173,723.4" fill="none" stroke="#555" stroke-width="0.8" stroke-dasharray="2.3,1.6"/>
<line x1="227" y1="723.4" x2="173" y2="723.4" stroke="#555" stroke-width="0.8" stroke-dasharray="2.3,1.6"/>
<line x1="227" y1="723.4" x2="227" y2="728" stroke="#666" stroke-width="0.7" stroke-dasharray="1.5,1.5"/>
<line x1="173" y1="723.4" x2="173" y2="728" stroke="#666" stroke-width="0.7" stroke-dasharray="1.5,1.5"/>
<path d="M227.2,741.4 L227.2,738.4 L222.9,731 Q221.1,728.2 217.7,728.2 L182.3,728.2 Q178.9,728.2 177.1,731 L172.6,738.4 L172.6,753.2" fill="none" stroke="#3a3a3a" stroke-width="0.85"/>
<line x1="227.2" y1="738.4" x2="172.6" y2="738.4" stroke="#3a3a3a" stroke-width="0.7"/>
<line x1="205.1" y1="753.2" x2="172.6" y2="753.2" stroke="#3a3a3a" stroke-width="0.8"/>
<rect x="173.4" y="753.2" width="31.7" height="45.3" rx="0" fill="none" stroke="#3a3a3a" stroke-width="0.8"/>
<line x1="203" y1="754" x2="203" y2="798" stroke="#555" stroke-width="0.55"/>
<line x1="200.4" y1="754" x2="200.4" y2="798" stroke="#555" stroke-width="0.55"/>
<line x1="197.8" y1="754" x2="197.8" y2="798" stroke="#555" stroke-width="0.55"/>
<line x1="195.2" y1="754" x2="195.2" y2="798" stroke="#555" stroke-width="0.55"/>
<line x1="192.6" y1="754" x2="192.6" y2="798" stroke="#555" stroke-width="0.55"/>
<line x1="190" y1="754" x2="190" y2="798" stroke="#555" stroke-width="0.55"/>
<line x1="187.4" y1="754" x2="187.4" y2="798" stroke="#555" stroke-width="0.55"/>
<line x1="184.8" y1="754" x2="184.8" y2="798" stroke="#555" stroke-width="0.55"/>
<line x1="182.2" y1="754" x2="182.2" y2="798" stroke="#555" stroke-width="0.55"/>
<line x1="179.6" y1="754" x2="179.6" y2="798" stroke="#555" stroke-width="0.55"/>
<line x1="177" y1="754" x2="177" y2="798" stroke="#555" stroke-width="0.55"/>
<line x1="174.4" y1="754" x2="174.4" y2="798" stroke="#555" stroke-width="0.55"/>
<rect x="205.1" y="741.4" width="18.4" height="59" rx="0" fill="none" stroke="#3a3a3a" stroke-width="0.9"/>
<line x1="220.6" y1="742" x2="220.6" y2="800" stroke="#3a3a3a" stroke-width="0.6"/>
<line x1="208" y1="742" x2="208" y2="800" stroke="#3a3a3a" stroke-width="0.6"/>
<rect x="202" y="770.6" width="5.7" height="2.2" rx="0" fill="none" stroke="#3a3a3a" stroke-width="0.6"/>
<circle cx="204.3" cy="780.4" r="3.4" fill="none" stroke="#333" stroke-width="0.8"/>
<circle cx="204.3" cy="789.7" r="3.4" fill="none" stroke="#333" stroke-width="0.8"/>
<polygon points="254.1,741.7 223.1,741.7 223.1,801 256.2,800.2 260.8,795.9 255.7,745.3" fill="none" stroke="#222" stroke-width="1.2"/>
<polyline points="254.5,744 231,744 231,799 258.5,798" fill="none" stroke="#666" stroke-width="0.5"/>
<line x1="256.5" y1="764.4" x2="223.5" y2="764.4" stroke="#3a3a3a" stroke-width="0.9"/>
<line x1="256.2" y1="761.5" x2="230.5" y2="761.5" stroke="#555" stroke-width="1.6"/>
<rect x="232.5" y="742.8" width="19" height="3.7" rx="0" fill="none" stroke="#3a3a3a" stroke-width="0.6"/>
<polygon points="232,745 225.2,743 226,762.5 231,763.5" fill="none" stroke="#3a3a3a" stroke-width="0.7"/>
<circle cx="226.7" cy="784.6" r="2.3" fill="none" stroke="#222" stroke-width="0.9"/>
<circle cx="226.7" cy="793.3" r="2.3" fill="none" stroke="#222" stroke-width="0.9"/>
<circle cx="257.7" cy="767" r="1.1" fill="#222" stroke="#3a3a3a" stroke-width="0"/>
<circle cx="258.5" cy="797" r="1.1" fill="#222" stroke="#3a3a3a" stroke-width="0"/>
<circle cx="232" cy="767" r="1.1" fill="#222" stroke="#3a3a3a" stroke-width="0"/>
<circle cx="232" cy="797.5" r="1.1" fill="#222" stroke="#3a3a3a" stroke-width="0"/>
<circle cx="85.9" cy="754.6" r="3.1" fill="none" stroke="#222" stroke-width="1.7"/>
<rect x="92.1" y="752" width="10.9" height="7.3" rx="0" fill="none" stroke="#444" stroke-width="0.8"/>
<circle cx="238.2" cy="754.7" r="3.1" fill="none" stroke="#222" stroke-width="1.7"/>
<rect x="243.3" y="752" width="11.1" height="7.3" rx="0" fill="none" stroke="#444" stroke-width="0.8"/>
<g transform="translate(169.4,829.8) scale(0.84) translate(-147.8,-296.6)" class="ns">
<rect x="80.6" y="263.2" width="62" height="5.6" rx="0" fill="none" stroke="#3a3a3a" stroke-width="0.8"/>
<line x1="80.6" y1="261" x2="80.6" y2="263.2" stroke="#3a3a3a" stroke-width="0.75"/>
<line x1="142.6" y1="261" x2="142.6" y2="263.2" stroke="#3a3a3a" stroke-width="0.75"/>
<line x1="94.8" y1="268.8" x2="94.8" y2="279.1" stroke="#3a3a3a" stroke-width="0.75"/>
<line x1="128.6" y1="268.8" x2="128.6" y2="279.1" stroke="#3a3a3a" stroke-width="0.75"/>
<circle cx="91.9" cy="275.8" r="2" fill="none" stroke="#222" stroke-width="1.3"/>
<line x1="87.9" y1="269.5" x2="95.9" y2="269.5" stroke="#3a3a3a" stroke-width="0.6"/>
<rect x="83.3" y="279.1" width="47.1" height="3.1" rx="0" fill="none" stroke="#3a3a3a" stroke-width="0.8"/>
<path d="M84.4,279.1 a1.5,1.2 0 0 1 3,0" fill="none" stroke="#3a3a3a" stroke-width="0.6"/>
<path d="M99.9,279.1 a1.5,1.2 0 0 1 3,0" fill="none" stroke="#3a3a3a" stroke-width="0.6"/>
<path d="M120.4,279.1 a1.5,1.2 0 0 1 3,0" fill="none" stroke="#3a3a3a" stroke-width="0.6"/>
<rect x="84.6" y="282.2" width="21.2" height="4.7" rx="0" fill="none" stroke="#3a3a3a" stroke-width="0.7"/>
<line x1="100.5" y1="282.2" x2="100.5" y2="286.9" stroke="#3a3a3a" stroke-width="0.6"/>
<path d="M84.6,287.2 L78.8,287.7 Q76,288.2 76.2,292 Q76.4,295.5 79.2,296.4 L92.1,298.4 C100.4,299.5 102.4,306 104.4,312 C106.4,318 107.6,320.5 108.9,321.4" fill="none" stroke="#3a3a3a" stroke-width="0.85"/>
<path d="M80.4,297 l0,1.8 l6,0.4 l0,-1.4" fill="none" stroke="#3a3a3a" stroke-width="0.6"/>
<line x1="84.6" y1="287.2" x2="119.4" y2="287.2" stroke="#3a3a3a" stroke-width="0.8"/>
<line x1="100.1" y1="303.2" x2="108.5" y2="303.2" stroke="#3a3a3a" stroke-width="0.6"/>
<line x1="100.1" y1="305.8" x2="108.5" y2="305.8" stroke="#3a3a3a" stroke-width="0.6"/>
<line x1="108.5" y1="300" x2="108.5" y2="321.4" stroke="#3a3a3a" stroke-width="0.7"/>
<line x1="118.2" y1="300" x2="118.2" y2="321.4" stroke="#3a3a3a" stroke-width="0.7"/>
<path d="M118.2,321.4 Q123.4,321 127.4,318" fill="none" stroke="#3a3a3a" stroke-width="0.6"/>
<path d="M127.4,287.2 Q132.4,291 135.4,298" fill="none" stroke="#3a3a3a" stroke-width="0.6"/>
<rect x="152.4" y="263.2" width="62" height="5.6" rx="0" fill="none" stroke="#3a3a3a" stroke-width="0.8"/>
<line x1="152.4" y1="261" x2="152.4" y2="263.2" stroke="#3a3a3a" stroke-width="0.75"/>
<line x1="214.4" y1="261" x2="214.4" y2="263.2" stroke="#3a3a3a" stroke-width="0.75"/>
<line x1="200.2" y1="268.8" x2="200.2" y2="279.1" stroke="#3a3a3a" stroke-width="0.75"/>
<line x1="166.4" y1="268.8" x2="166.4" y2="279.1" stroke="#3a3a3a" stroke-width="0.75"/>
<circle cx="203.1" cy="275.8" r="2" fill="none" stroke="#222" stroke-width="1.3"/>
<line x1="199.1" y1="269.5" x2="207.1" y2="269.5" stroke="#3a3a3a" stroke-width="0.6"/>
<rect x="164.6" y="279.1" width="47.1" height="3.1" rx="0" fill="none" stroke="#3a3a3a" stroke-width="0.8"/>
<path d="M207.6,279.1 a1.5,1.2 0 0 1 3,0" fill="none" stroke="#3a3a3a" stroke-width="0.6"/>
<path d="M192.1,279.1 a1.5,1.2 0 0 1 3,0" fill="none" stroke="#3a3a3a" stroke-width="0.6"/>
<path d="M171.6,279.1 a1.5,1.2 0 0 1 3,0" fill="none" stroke="#3a3a3a" stroke-width="0.6"/>
<rect x="189.2" y="282.2" width="21.2" height="4.7" rx="0" fill="none" stroke="#3a3a3a" stroke-width="0.7"/>
<line x1="194.5" y1="282.2" x2="194.5" y2="286.9" stroke="#3a3a3a" stroke-width="0.6"/>
<path d="M175.6,287.6 L219,288.1 Q221.9,288.4 221.9,291.5 L221.9,294.6 Q219.5,300.5 214.9,301.9 L196,302.6 C191,304 189,312 186.6,321" fill="none" stroke="#3a3a3a" stroke-width="0.85"/>
<path d="M213.6,301.4 l-0.4,1.6 l-6,0.2 l0,-1.2" fill="none" stroke="#3a3a3a" stroke-width="0.6"/>
<line x1="186.6" y1="303" x2="186.6" y2="321" stroke="#3a3a3a" stroke-width="0.7"/>
<line x1="177" y1="303" x2="177" y2="321" stroke="#3a3a3a" stroke-width="0.7"/>
<line x1="177" y1="321" x2="186.6" y2="321" stroke="#3a3a3a" stroke-width="0.8"/>
<line x1="177" y1="302.6" x2="196" y2="302.6" stroke="#3a3a3a" stroke-width="0.7"/>
<path d="M177,321 Q171.6,321 167.6,318" fill="none" stroke="#3a3a3a" stroke-width="0.6"/>
<path d="M167.6,287.6 Q162.6,291 159.6,298" fill="none" stroke="#3a3a3a" stroke-width="0.6"/>
<rect x="142.4" y="259.5" width="9.5" height="10" rx="0" fill="none" stroke="#3a3a3a" stroke-width="0.8"/>
<line x1="143.8" y1="259.5" x2="143.8" y2="269.5" stroke="#3a3a3a" stroke-width="0.5"/>
<line x1="150.5" y1="259.5" x2="150.5" y2="269.5" stroke="#3a3a3a" stroke-width="0.5"/>
<circle cx="147.8" cy="270.3" r="1.7" fill="none" stroke="#222" stroke-width="1.3"/>
<circle cx="147.8" cy="296.6" r="23.5" fill="none" stroke="#3a3a3a" stroke-width="0.9"/>
<circle cx="147.8" cy="296.6" r="14" fill="none" stroke="#3a3a3a" stroke-width="0.8"/>
<circle cx="147.8" cy="296.6" r="8.3" fill="none" stroke="#3a3a3a" stroke-width="0.8"/>
<circle cx="135.4" cy="284.2" r="2.5" fill="none" stroke="#3a3a3a" stroke-width="0.8"/>
<circle cx="135.4" cy="309" r="2.5" fill="none" stroke="#3a3a3a" stroke-width="0.8"/>
<circle cx="160.2" cy="284.2" r="2.5" fill="none" stroke="#3a3a3a" stroke-width="0.8"/>
<circle cx="160.2" cy="309" r="2.5" fill="none" stroke="#3a3a3a" stroke-width="0.8"/>
<line x1="147.8" y1="254" x2="147.8" y2="324" stroke="#333" stroke-width="0.6" stroke-dasharray="7,1.5,1.2,1.5"/>
<line x1="123.8" y1="296.6" x2="172.8" y2="296.6" stroke="#444" stroke-width="0.55" stroke-dasharray="7,1.5,1.2,1.5"/>
<line x1="72" y1="321.9" x2="117" y2="321.9" stroke="#3a3a3a" stroke-width="0.85"/>
<path d="M117,321.6 Q147.8,316 177,321" fill="none" stroke="#3a3a3a" stroke-width="0.6"/>
</g>
<line x1="138.9" y1="681.2" x2="138.9" y2="740.3" stroke="#333" stroke-width="0.65"/>
<line x1="138.9" y1="740.3" x2="138.9" y2="872" stroke="#333" stroke-width="0.65" stroke-dasharray="10,1.6,1.2,1.6"/>
<line x1="199.6" y1="705.4" x2="199.6" y2="740.3" stroke="#333" stroke-width="0.65"/>
<line x1="199.6" y1="740.3" x2="199.6" y2="872" stroke="#333" stroke-width="0.65" stroke-dasharray="10,1.6,1.2,1.6"/>
<line x1="63" y1="829.7" x2="150" y2="829.7" stroke="#444" stroke-width="0.6"/>
<line x1="138.9" y1="684.1" x2="199.6" y2="684.1" stroke="#4a4a4a" stroke-width="0.7"/>
<polygon points="138.9,684.1 144.4,682.5 144.4,685.7" fill="#222"/>
<polygon points="199.6,684.1 194.1,682.5 194.1,685.7" fill="#222"/>
<line x1="199.6" y1="681.4" x2="199.6" y2="690.1" stroke="#4a4a4a" stroke-width="0.7"/>
<text x="171" y="682" font-size="11.8" text-anchor="middle" fill="#1a1a1a">s</text>
<line x1="173" y1="703.9" x2="227" y2="703.9" stroke="#4a4a4a" stroke-width="0.7"/>
<polygon points="173,703.9 178.5,702.3 178.5,705.5" fill="#222"/>
<polygon points="227,703.9 221.5,702.3 221.5,705.5" fill="#222"/>
<line x1="173" y1="700.9" x2="173" y2="723.4" stroke="#4a4a4a" stroke-width="0.7"/>
<line x1="227" y1="700.9" x2="227" y2="723.4" stroke="#4a4a4a" stroke-width="0.7"/>
<text x="201.8" y="699.9" font-size="11.8" text-anchor="middle" fill="#1a1a1a">Øg</text>
<line x1="63" y1="713" x2="118" y2="713" stroke="#4a4a4a" stroke-width="0.7"/>
<line x1="63" y1="728.3" x2="118" y2="728.3" stroke="#4a4a4a" stroke-width="0.7"/>
<line x1="65.8" y1="697.5" x2="65.8" y2="713" stroke="#4a4a4a" stroke-width="0.7"/>
<polygon points="65.8,713 64.2,707.5 67.4,707.5" fill="#222"/>
<text x="68.4" y="719.8" font-size="12" text-anchor="middle" fill="#1a1a1a" transform="rotate(-90 68.4 719.8)">x</text>
<line x1="65.8" y1="728.3" x2="65.8" y2="829.7" stroke="#4a4a4a" stroke-width="0.7"/>
<polygon points="65.8,728.3 64.2,733.8 67.4,733.8" fill="#222"/>
<polygon points="65.8,829.7 64.2,824.2 67.4,824.2" fill="#222"/>
<text x="62.2" y="783" font-size="12" fill="#1a1a1a" transform="rotate(-90 62.2 783)">l<tspan font-size="9.5" dy="1.5">1</tspan></text>
<line x1="65.8" y1="829.7" x2="65.8" y2="851.6" stroke="#4a4a4a" stroke-width="0.7"/>
<polygon points="65.8,829.7 64.2,835.2 67.4,835.2" fill="#222"/>
<polygon points="65.8,851.6 64.2,846.1 67.4,846.1" fill="#222"/>
<text x="63" y="837.8" font-size="12" text-anchor="middle" fill="#1a1a1a" transform="rotate(-90 63 837.8)">a</text>
<line x1="63" y1="851.6" x2="137.8" y2="851.6" stroke="#3a3a3a" stroke-width="0.8"/>
<line x1="109.1" y1="832.2" x2="109.1" y2="849.1" stroke="#4a4a4a" stroke-width="0.7"/>
<line x1="109.1" y1="855.1" x2="109.1" y2="888.8" stroke="#4a4a4a" stroke-width="0.7"/>
<line x1="231.9" y1="826" x2="231.9" y2="887.8" stroke="#4a4a4a" stroke-width="0.7"/>
<line x1="109.1" y1="868.9" x2="137.8" y2="868.9" stroke="#4a4a4a" stroke-width="0.7"/>
<polygon points="109.1,868.9 114.6,867.3 114.6,870.5" fill="#222"/>
<polygon points="137.8,868.9 132.3,867.3 132.3,870.5" fill="#222"/>
<line x1="199.4" y1="868.9" x2="231.9" y2="868.9" stroke="#4a4a4a" stroke-width="0.7"/>
<polygon points="199.4,868.9 204.9,867.3 204.9,870.5" fill="#222"/>
<polygon points="231.9,868.9 226.4,867.3 226.4,870.5" fill="#222"/>
<line x1="138.9" y1="853.6" x2="138.9" y2="871.9" stroke="#4a4a4a" stroke-width="0.7"/>
<line x1="199.6" y1="853.6" x2="199.6" y2="871.9" stroke="#4a4a4a" stroke-width="0.7"/>
<line x1="109.1" y1="884.8" x2="231.9" y2="884.8" stroke="#4a4a4a" stroke-width="0.7"/>
<polygon points="109.1,884.8 114.6,883.2 114.6,886.4" fill="#222"/>
<polygon points="231.9,884.8 226.4,883.2 226.4,886.4" fill="#222"/>
<text x="118.2" y="864.8" font-size="12" fill="#1a1a1a">b<tspan font-size="9.5" dy="1">1</tspan></text>
<text x="210.7" y="864.8" font-size="12" fill="#1a1a1a">b<tspan font-size="9.5" dy="1">2</tspan></text>
<text x="159.8" y="880.7" font-size="11.5" fill="#1a1a1a">b<tspan font-size="10.3" dy="1.8">max</tspan></text>
<text x="143.5" y="867.4" font-size="10.6" text-anchor="start" fill="#1a1a1a" letter-spacing="-0.3">3xM10x20</text>
<line x1="155" y1="869.6" x2="189.8" y2="869.6" stroke="#4a4a4a" stroke-width="0.7"/>
<line x1="189.8" y1="869.6" x2="197.2" y2="853.2" stroke="#4a4a4a" stroke-width="0.7"/>
<polygon points="197.2,852.7 195.9,856.7 198.5,856.7" fill="#222"/>
<text x="76.6" y="811.4" font-size="11.3" text-anchor="start" fill="#1a1a1a">Th</text>
<line x1="76" y1="812.9" x2="92.1" y2="812.9" stroke="#4a4a4a" stroke-width="0.7"/>
<line x1="92.1" y1="812.9" x2="103.2" y2="800.4" stroke="#4a4a4a" stroke-width="0.6"/>
<line x1="92.1" y1="812.9" x2="106.9" y2="799.6" stroke="#4a4a4a" stroke-width="0.6"/>
<g transform="translate(388.4,802.2) scale(0.85) translate(-383.6,-264.3)" class="ns">
<circle cx="348.1" cy="264.3" r="24.6" fill="none" stroke="#3a3a3a" stroke-width="0.85"/>
<circle cx="348.1" cy="264.3" r="30.8" fill="none" stroke="#3a3a3a" stroke-width="0.85"/>
<circle cx="348.1" cy="264.3" r="33" fill="none" stroke="#333" stroke-width="1.05"/>
<path d="M340.1,228.8 C320.35,230.3 311.1,250.3 311.1,264.3 C311.1,278.3 320.35,298.3 340.1,299.8" fill="none" stroke="#3a3a3a" stroke-width="0.8"/>
<circle cx="419.1" cy="264.3" r="24.6" fill="none" stroke="#3a3a3a" stroke-width="0.85"/>
<circle cx="419.1" cy="264.3" r="30.8" fill="none" stroke="#3a3a3a" stroke-width="0.85"/>
<circle cx="419.1" cy="264.3" r="33" fill="none" stroke="#333" stroke-width="1.05"/>
<path d="M427.1,230.8 C445.35,232.3 454.1,250.3 454.1,264.3 C454.1,278.3 445.35,296.3 427.1,297.8" fill="none" stroke="#3a3a3a" stroke-width="0.8"/>
<circle cx="348.1" cy="250.3" r="4.3" fill="none" stroke="#3a3a3a" stroke-width="0.8"/>
<line x1="348.1" y1="244" x2="348.1" y2="257" stroke="#3a3a3a" stroke-width="0.6"/>
<line x1="348.1" y1="225" x2="348.1" y2="306" stroke="#444" stroke-width="0.6" stroke-dasharray="7,1.5,1.2,1.5"/>
<circle cx="419.1" cy="250.3" r="4.3" fill="none" stroke="#3a3a3a" stroke-width="0.8"/>
<line x1="419.1" y1="244" x2="419.1" y2="257" stroke="#3a3a3a" stroke-width="0.6"/>
<line x1="419.1" y1="225" x2="419.1" y2="306" stroke="#444" stroke-width="0.6" stroke-dasharray="7,1.5,1.2,1.5"/>
<path d="M359.7,300.8 L359.7,304.5 Q359.7,307 362,307 L405,307 Q407.3,307 407.3,304.5 L407.3,300" fill="none" stroke="#3a3a3a" stroke-width="0.8"/>
<line x1="359.7" y1="302" x2="407.3" y2="302" stroke="#3a3a3a" stroke-width="0.6"/>
<line x1="383.3" y1="198" x2="383.3" y2="330" stroke="#444" stroke-width="0.6" stroke-dasharray="7,1.5,1.2,1.5"/>
<rect x="381.7" y="216" width="3.2" height="5.5" rx="0" fill="#333" stroke="#3a3a3a" stroke-width="0"/>
<path d="M383.3,221.5 c4.2,0 4.2,4.2 0,4.2 c-4.2,0 -4.2,4.2 0,4.2 c4.2,0 4.2,4.2 0,4.2 c-4.2,0 -4.2,4.2 0,4.2" fill="none" stroke="#222" stroke-width="1.1"/>
<rect x="381.7" y="236.5" width="3.2" height="4.5" rx="0" fill="#333" stroke="#3a3a3a" stroke-width="0"/>
<rect x="379.8" y="242.4" width="7.8" height="7.8" rx="0" fill="none" stroke="#3a3a3a" stroke-width="0.8"/>
<line x1="379.8" y1="246.3" x2="387.6" y2="246.3" stroke="#3a3a3a" stroke-width="0.6"/>
<line x1="383.7" y1="242.4" x2="383.7" y2="250.2" stroke="#3a3a3a" stroke-width="0.6"/>
<rect x="380" y="250.2" width="7.4" height="8.4" rx="0" fill="#ddd" stroke="#3a3a3a" stroke-width="0.7"/>
<line x1="380" y1="252.3" x2="387.4" y2="252.3" stroke="#444" stroke-width="0.8"/>
<line x1="380" y1="254.4" x2="387.4" y2="254.4" stroke="#444" stroke-width="0.8"/>
<line x1="380" y1="256.5" x2="387.4" y2="256.5" stroke="#444" stroke-width="0.8"/>
<path d="M383.3,258.6 C390.3,258.5 390.3,263.8 383.3,262.8 C376.3,261.8 376.8,266.2 383.3,265.6 C390.3,265.1 390.3,270.4 383.3,269.4 C376.3,268.4 376.8,272.8 383.3,272.2 C390.3,271.7 390.3,277 383.3,276 C376.3,275 376.8,279.4 383.3,278.8 C390.3,278.3 390.3,283.6 383.3,282.6 C376.3,281.6 376.8,286 383.3,285.4 C390.3,284.9 390.3,290.2 383.3,289.2 C376.3,288.2 376.8,292.6 383.3,292" fill="none" stroke="#222" stroke-width="1.0"/>
<line x1="383.3" y1="292" x2="383.3" y2="297" stroke="#222" stroke-width="1.0"/>
<circle cx="383.3" cy="301.2" r="3.8" fill="none" stroke="#222" stroke-width="1.1"/>
<circle cx="383.3" cy="301.2" r="1.8" fill="#222" stroke="#3a3a3a" stroke-width="0"/>
<polygon points="381.5,296.5 385.1,296.5 383.3,299.5" fill="#222" stroke="#3a3a3a" stroke-width="0"/>
<rect x="360.2" y="209.6" width="48" height="5.2" rx="1.2" fill="none" stroke="#3a3a3a" stroke-width="0.8"/>
<path d="M370,214.8 Q365,223 356.5,225.3 L336,225.3" fill="none" stroke="#3a3a3a" stroke-width="0.8"/>
<path d="M398.5,214.8 Q405,222 408,234" fill="none" stroke="#3a3a3a" stroke-width="0.8"/>
</g>
<g transform="translate(358.3,802.2) rotate(-45) scale(0.85) translate(0,-4.0) translate(-348.1,-264.3)" class="ns">
<rect x="319.1" y="191.9" width="4.2" height="5.1" rx="1" fill="none" stroke="#3a3a3a" stroke-width="0.8"/>
<rect x="372.3" y="191.9" width="5.2" height="5.1" rx="1" fill="none" stroke="#3a3a3a" stroke-width="0.8"/>
<circle cx="375.7" cy="193.5" r="0.5" fill="#333" stroke="#3a3a3a" stroke-width="0"/>
<circle cx="375.7" cy="195.5" r="0.5" fill="#333" stroke="#3a3a3a" stroke-width="0"/>
<rect x="323.3" y="187" width="48.5" height="13.1" rx="1.5" fill="none" stroke="#3a3a3a" stroke-width="0.8"/>
<line x1="328.4" y1="188" x2="367.7" y2="188" stroke="#1e1e1e" stroke-width="1.9"/>
<line x1="328.4" y1="189.9" x2="367.7" y2="189.9" stroke="#444" stroke-width="0.9"/>
<rect x="332" y="190.8" width="31" height="7.8" rx="1" fill="none" stroke="#333" stroke-width="0.8"/>
<rect x="335.1" y="188.9" width="11" height="1.5" rx="0" fill="none" stroke="#555" stroke-width="0.5"/>
<rect x="354.1" y="188.9" width="6" height="1.5" rx="0" fill="none" stroke="#555" stroke-width="0.5"/>
<line x1="328.9" y1="189.6" x2="328.9" y2="200.1" stroke="#3a3a3a" stroke-width="0.6"/>
<line x1="368.2" y1="189.6" x2="368.2" y2="200.1" stroke="#3a3a3a" stroke-width="0.6"/>
<path d="M321.7,201.5 L373.2,201.5 L373.2,228 L372.8,235 L322.7,235 L321.7,228 Z" fill="none" stroke="#3a3a3a" stroke-width="0.9"/>
<line x1="321.7" y1="203.5" x2="373.2" y2="203.5" stroke="#3a3a3a" stroke-width="0.6"/>
<path d="M322.3,227.2 Q348.1,223.8 373.3,227.2" fill="none" stroke="#3a3a3a" stroke-width="0.7"/>
<path d="M327.9,229.6 Q348.1,228.2 367.1,229.6" fill="none" stroke="#3a3a3a" stroke-width="0.6"/>
<path d="M328.5,229.4 l0.7,5 M330.61,229.4 l0.7,5 M332.72,229.4 l0.7,5 M334.83,229.4 l0.7,5 M336.94,229.4 l0.7,5 M339.06,229.4 l0.7,5 M341.17,229.4 l0.7,5 M343.28,229.4 l0.7,5 M345.39,229.4 l0.7,5 M347.5,229.4 l0.7,5 M349.61,229.4 l0.7,5 M351.72,229.4 l0.7,5 M353.83,229.4 l0.7,5 M355.94,229.4 l0.7,5 M358.06,229.4 l0.7,5 M360.17,229.4 l0.7,5 M362.28,229.4 l0.7,5 M364.39,229.4 l0.7,5 M366.5,229.4 l0.7,5" fill="none" stroke="#2a2a2a" stroke-width="1.05"/>
<line x1="327.9" y1="232" x2="367.1" y2="232" stroke="#333" stroke-width="0.6"/>
<line x1="330.5" y1="235" x2="330.5" y2="242" stroke="#3a3a3a" stroke-width="0.7"/>
<line x1="365.6" y1="235" x2="365.6" y2="242" stroke="#3a3a3a" stroke-width="0.7"/>
<polyline points="330.5,240.8 323.8,240.8 323.8,246 329.1,246" fill="none" stroke="#3a3a3a" stroke-width="0.7"/>
<polyline points="365.6,240.8 372.3,240.8 372.3,246 367.1,246" fill="none" stroke="#3a3a3a" stroke-width="0.7"/>
<line x1="348.1" y1="190" x2="348.1" y2="262" stroke="#444" stroke-width="0.6" stroke-dasharray="7,1.5,1.2,1.5"/>
</g>
<g transform="translate(418.5,802.2) rotate(45) scale(0.85) translate(0,-4.0) translate(-419.1,-264.3)" class="ns">
<rect x="390.1" y="191.9" width="4.2" height="5.1" rx="1" fill="none" stroke="#3a3a3a" stroke-width="0.8"/>
<rect x="443.3" y="191.9" width="5.2" height="5.1" rx="1" fill="none" stroke="#3a3a3a" stroke-width="0.8"/>
<circle cx="446.7" cy="193.5" r="0.5" fill="#333" stroke="#3a3a3a" stroke-width="0"/>
<circle cx="446.7" cy="195.5" r="0.5" fill="#333" stroke="#3a3a3a" stroke-width="0"/>
<rect x="394.3" y="187" width="48.5" height="13.1" rx="1.5" fill="none" stroke="#3a3a3a" stroke-width="0.8"/>
<line x1="399.4" y1="188" x2="438.7" y2="188" stroke="#1e1e1e" stroke-width="1.9"/>
<line x1="399.4" y1="189.9" x2="438.7" y2="189.9" stroke="#444" stroke-width="0.9"/>
<rect x="403" y="190.8" width="31" height="7.8" rx="1" fill="none" stroke="#333" stroke-width="0.8"/>
<rect x="406.1" y="188.9" width="11" height="1.5" rx="0" fill="none" stroke="#555" stroke-width="0.5"/>
<rect x="425.1" y="188.9" width="6" height="1.5" rx="0" fill="none" stroke="#555" stroke-width="0.5"/>
<line x1="399.9" y1="189.6" x2="399.9" y2="200.1" stroke="#3a3a3a" stroke-width="0.6"/>
<line x1="439.2" y1="189.6" x2="439.2" y2="200.1" stroke="#3a3a3a" stroke-width="0.6"/>
<path d="M392.7,201.5 L444.2,201.5 L444.2,228 L443.8,235 L393.7,235 L392.7,228 Z" fill="none" stroke="#3a3a3a" stroke-width="0.9"/>
<line x1="392.7" y1="203.5" x2="444.2" y2="203.5" stroke="#3a3a3a" stroke-width="0.6"/>
<path d="M393.3,227.2 Q419.1,223.8 444.3,227.2" fill="none" stroke="#3a3a3a" stroke-width="0.7"/>
<path d="M398.9,229.6 Q419.1,228.2 438.1,229.6" fill="none" stroke="#3a3a3a" stroke-width="0.6"/>
<path d="M399.5,229.4 l0.7,5 M401.61,229.4 l0.7,5 M403.72,229.4 l0.7,5 M405.83,229.4 l0.7,5 M407.94,229.4 l0.7,5 M410.06,229.4 l0.7,5 M412.17,229.4 l0.7,5 M414.28,229.4 l0.7,5 M416.39,229.4 l0.7,5 M418.5,229.4 l0.7,5 M420.61,229.4 l0.7,5 M422.72,229.4 l0.7,5 M424.83,229.4 l0.7,5 M426.94,229.4 l0.7,5 M429.06,229.4 l0.7,5 M431.17,229.4 l0.7,5 M433.28,229.4 l0.7,5 M435.39,229.4 l0.7,5 M437.5,229.4 l0.7,5" fill="none" stroke="#2a2a2a" stroke-width="1.05"/>
<line x1="398.9" y1="232" x2="438.1" y2="232" stroke="#333" stroke-width="0.6"/>
<line x1="401.5" y1="235" x2="401.5" y2="242" stroke="#3a3a3a" stroke-width="0.7"/>
<line x1="436.6" y1="235" x2="436.6" y2="242" stroke="#3a3a3a" stroke-width="0.7"/>
<polyline points="401.5,240.8 394.8,240.8 394.8,246 400.1,246" fill="none" stroke="#3a3a3a" stroke-width="0.7"/>
<polyline points="436.6,240.8 443.3,240.8 443.3,246 438.1,246" fill="none" stroke="#3a3a3a" stroke-width="0.7"/>
<line x1="419.1" y1="190" x2="419.1" y2="262" stroke="#444" stroke-width="0.6" stroke-dasharray="7,1.5,1.2,1.5"/>
</g>
<line x1="284.8" y1="802.2" x2="328" y2="802.2" stroke="#444" stroke-width="0.6"/>
<line x1="328" y1="802.2" x2="500" y2="802.2" stroke="#444" stroke-width="0.6" stroke-dasharray="7,1.5,1.2,1.5"/>
<line x1="298" y1="788.9" x2="330" y2="788.9" stroke="#444" stroke-width="0.6"/>
<line x1="330" y1="788.9" x2="470" y2="788.9" stroke="#444" stroke-width="0.6" stroke-dasharray="7,1.5,1.2,1.5"/>
<line x1="274.2" y1="754.8" x2="368.5" y2="754.8" stroke="#4a4a4a" stroke-width="0.7"/>
<line x1="297.2" y1="834.2" x2="368" y2="834.2" stroke="#4a4a4a" stroke-width="0.7"/>
<line x1="274.2" y1="838.1" x2="368" y2="838.1" stroke="#4a4a4a" stroke-width="0.7"/>
<polygon points="388.7,737.5 385.9,745.5 391.5,745.5" fill="#111"/>
<line x1="388.7" y1="745" x2="388.7" y2="752" stroke="#333" stroke-width="0.8" stroke-dasharray="2,1.5"/>
<polygon points="388.4,848.5 385.6,856.5 391.2,856.5" fill="#111"/>
<line x1="388.4" y1="856" x2="388.4" y2="862" stroke="#333" stroke-width="0.8" stroke-dasharray="2,1.5"/>
<line x1="297.2" y1="724.8" x2="297.2" y2="770.8" stroke="#4a4a4a" stroke-width="0.7"/>
<line x1="482.3" y1="724" x2="482.3" y2="774.3" stroke="#4a4a4a" stroke-width="0.7"/>
<line x1="297.2" y1="726.5" x2="482.3" y2="726.5" stroke="#4a4a4a" stroke-width="0.7"/>
<polygon points="297.2,726.5 302.7,724.9 302.7,728.1" fill="#222"/>
<polygon points="482.3,726.5 476.8,724.9 476.8,728.1" fill="#222"/>
<text x="389.5" y="723.8" font-size="12" text-anchor="middle" fill="#1a1a1a">h</text>
<line x1="277.2" y1="754.8" x2="277.2" y2="838.1" stroke="#4a4a4a" stroke-width="0.7"/>
<polygon points="277.2,754.8 275.6,760.3 278.8,760.3" fill="#222"/>
<polygon points="277.2,838.1 275.6,832.6 278.8,832.6" fill="#222"/>
<text x="272.7" y="804.8" font-size="12" fill="#1a1a1a" transform="rotate(-90 272.7 804.8)">l<tspan font-size="10.5" dy="2">o</tspan></text>
<line x1="288.3" y1="754.8" x2="288.3" y2="802.2" stroke="#4a4a4a" stroke-width="0.7"/>
<polygon points="288.3,754.8 286.7,760.3 289.9,760.3" fill="#222"/>
<polygon points="288.3,802.2 286.7,796.7 289.9,796.7" fill="#222"/>
<text x="286.5" y="778.4" font-size="12" text-anchor="middle" fill="#1a1a1a" transform="rotate(-90 286.5 778.4)">m</text>
<line x1="300.4" y1="782.7" x2="300.4" y2="788.9" stroke="#4a4a4a" stroke-width="0.7"/>
<polygon points="300.4,788.9 298.8,783.4 302,783.4" fill="#222"/>
<text x="302.5" y="794.3" font-size="12" text-anchor="middle" fill="#1a1a1a" transform="rotate(-90 302.5 794.3)">e</text>
<line x1="300.4" y1="802.2" x2="300.4" y2="834.2" stroke="#4a4a4a" stroke-width="0.7"/>
<polygon points="300.4,802.2 298.8,807.7 302,807.7" fill="#222"/>
<polygon points="300.4,834.2 298.8,828.7 302,828.7" fill="#222"/>
<text x="297.2" y="818.3" font-size="12" text-anchor="middle" fill="#1a1a1a" transform="rotate(-90 297.2 818.3)">f</text>
<line x1="453.1" y1="740.4" x2="500" y2="740.4" stroke="#4a4a4a" stroke-width="0.7"/>
<line x1="497.3" y1="740.4" x2="497.3" y2="801.8" stroke="#4a4a4a" stroke-width="0.7"/>
<polygon points="497.3,740.4 495.7,745.9 498.9,745.9" fill="#222"/>
<polygon points="497.3,801.8 495.7,796.3 498.9,796.3" fill="#222"/>
<text x="493.8" y="778.8" font-size="12" fill="#1a1a1a" transform="rotate(-90 493.8 778.8)">b<tspan font-size="10" dy="1.3">4</tspan></text>
<path d="M535.72,774.56 A31.42,31.42 0 0 0 511.49,802 A31.42,31.42 0 0 0 542.66,833.42 L563.67,833.42" fill="none" stroke="#555" stroke-width="0.8" stroke-dasharray="2.3,1.6"/>
<path d="M592.64,769.05 A32.19,32.19 0 0 1 634.14,802 A32.19,32.19 0 0 1 598.23,833.42 L578.32,833.42" fill="none" stroke="#555" stroke-width="0.8" stroke-dasharray="2.3,1.6"/>
<polyline points="552.66,761.43 550.79,758.04 551.81,756.43 591.96,756.43 590.35,761.43 552.66,761.43" fill="none" stroke="#555" stroke-width="0.8" stroke-dasharray="2.3,1.6"/>
<path d="M557.74,761.43 Q554.35,769.48 551.47,780.15 L548.93,781.76" fill="none" stroke="#555" stroke-width="0.8" stroke-dasharray="2.3,1.6"/>
<line x1="583.91" y1="761.43" x2="592.64" y2="769.05" stroke="#555" stroke-width="0.8" stroke-dasharray="2.3,1.6"/>
<rect x="535.8" y="773.88" width="13.13" height="21.26" rx="0" fill="none" stroke="#555" stroke-width="0.7" stroke-dasharray="2,1.4"/>
<rect x="593.91" y="773.88" width="11.86" height="21.26" rx="0" fill="none" stroke="#555" stroke-width="0.7" stroke-dasharray="2,1.4"/>
<rect x="563.92" y="829.61" width="14.4" height="20.67" rx="0" fill="none" stroke="#555" stroke-width="0.7" stroke-dasharray="2,1.4"/>
<line x1="535.8" y1="784.3" x2="548.93" y2="784.3" stroke="#555" stroke-width="0.6" stroke-dasharray="2,1.4"/>
<line x1="593.91" y1="784.3" x2="605.76" y2="784.3" stroke="#555" stroke-width="0.6" stroke-dasharray="2,1.4"/>
<line x1="563.92" y1="839.78" x2="578.32" y2="839.78" stroke="#555" stroke-width="0.6" stroke-dasharray="2,1.4"/>
<polyline points="550.79,833.42 551.81,837.74 591.37,837.74 591.37,833.42" fill="none" stroke="#555" stroke-width="0.8" stroke-dasharray="2.3,1.6"/>
<circle cx="542.07" cy="777.61" r="1.95" fill="none" stroke="#444" stroke-width="0.7"/>
<circle cx="600.77" cy="778.54" r="1.95" fill="none" stroke="#444" stroke-width="0.7"/>
<circle cx="571.8" cy="845.87" r="1.95" fill="none" stroke="#444" stroke-width="0.7"/>
<circle cx="542.07" cy="790.48" r="3.64" fill="none" stroke="#333" stroke-width="0.9"/>
<circle cx="542.07" cy="790.48" r="0.93" fill="#222" stroke="#3a3a3a" stroke-width="0"/>
<circle cx="600.77" cy="790.48" r="3.64" fill="none" stroke="#333" stroke-width="0.9"/>
<circle cx="600.77" cy="790.48" r="0.93" fill="#222" stroke="#3a3a3a" stroke-width="0"/>
<circle cx="571.8" cy="833.76" r="3.64" fill="none" stroke="#333" stroke-width="0.9"/>
<circle cx="571.8" cy="833.76" r="0.93" fill="#222" stroke="#3a3a3a" stroke-width="0"/>
<line x1="542.07" y1="744.49" x2="542.07" y2="797.6" stroke="#4a4a4a" stroke-width="0.7"/>
<line x1="600.77" y1="744.49" x2="600.77" y2="797.6" stroke="#4a4a4a" stroke-width="0.7"/>
<line x1="545.71" y1="790.48" x2="623.81" y2="790.48" stroke="#4a4a4a" stroke-width="0.7"/>
<line x1="586.96" y1="778.54" x2="602.63" y2="778.54" stroke="#4a4a4a" stroke-width="0.7"/>
<line x1="571.8" y1="833.76" x2="623.81" y2="833.76" stroke="#4a4a4a" stroke-width="0.7"/>
<line x1="541.48" y1="844.01" x2="574.68" y2="844.01" stroke="#4a4a4a" stroke-width="0.7"/>
<line x1="541.48" y1="848.42" x2="574.68" y2="848.42" stroke="#4a4a4a" stroke-width="0.7"/>
<line x1="571.8" y1="846.3" x2="601.36" y2="846.3" stroke="#4a4a4a" stroke-width="0.7"/>
<line x1="508.36" y1="802" x2="636.93" y2="802" stroke="#444" stroke-width="0.6" stroke-dasharray="7,1.5,1.2,1.5"/>
<line x1="571.8" y1="750.84" x2="571.8" y2="866.88" stroke="#444" stroke-width="0.6" stroke-dasharray="7,1.5,1.2,1.5"/>
<line x1="571.8" y1="727.01" x2="571.8" y2="732.52" stroke="#333" stroke-width="0.8" stroke-dasharray="2.2,1.5"/>
<polygon points="571.8,719.81 569,727.01 574.6,727.01" fill="#111"/>
<polygon points="571.8,855.28 569,862.48 574.6,862.48" fill="#111"/>
<line x1="542.07" y1="746.61" x2="600.77" y2="746.61" stroke="#4a4a4a" stroke-width="0.7"/>
<polygon points="542.07,746.61 547.57,745.01 547.57,748.21" fill="#222"/>
<polygon points="600.77,746.61 595.27,745.01 595.27,748.21" fill="#222"/>
<text x="572.14" y="744.07" font-size="12" text-anchor="middle" fill="#1a1a1a">c</text>
<line x1="589.25" y1="767.02" x2="589.25" y2="778.54" stroke="#4a4a4a" stroke-width="0.7"/>
<polygon points="589.25,778.54 587.65,773.04 590.85,773.04" fill="#222"/>
<line x1="589.25" y1="790.48" x2="589.25" y2="805.05" stroke="#4a4a4a" stroke-width="0.7"/>
<polygon points="589.25,790.48 587.65,795.98 590.85,795.98" fill="#222"/>
<text x="585.69" y="783.03" font-size="12" text-anchor="middle" fill="#1a1a1a" transform="rotate(-90 585.69 783.03)">50</text>
<line x1="621.35" y1="779.47" x2="621.35" y2="790.48" stroke="#4a4a4a" stroke-width="0.7"/>
<polygon points="621.35,790.48 619.75,784.98 622.95,784.98" fill="#222"/>
<text x="622.75" y="795.39" font-size="12" text-anchor="middle" fill="#1a1a1a" transform="rotate(-90 622.75 795.39)">e</text>
<line x1="621.35" y1="802.17" x2="621.35" y2="833.76" stroke="#4a4a4a" stroke-width="0.7"/>
<polygon points="621.35,802.17 619.75,807.67 622.95,807.67" fill="#222"/>
<polygon points="621.35,833.76 619.75,828.26 622.95,828.26" fill="#222"/>
<text x="618.3" y="818.01" font-size="12" text-anchor="middle" fill="#1a1a1a" transform="rotate(-90 618.3 818.01)">f</text>
<line x1="598.9" y1="822.75" x2="598.9" y2="833.76" stroke="#4a4a4a" stroke-width="0.7"/>
<polygon points="598.9,833.76 597.3,828.26 600.5,828.26" fill="#222"/>
<line x1="598.9" y1="846.3" x2="598.9" y2="857.14" stroke="#4a4a4a" stroke-width="0.7"/>
<polygon points="598.9,846.3 597.3,851.8 600.5,851.8" fill="#222"/>
<text x="610.93" y="841.22" font-size="12" text-anchor="middle" fill="#1a1a1a" transform="rotate(-90 610.93 841.22)">50</text>
<line x1="544.61" y1="829.61" x2="544.61" y2="844.01" stroke="#4a4a4a" stroke-width="0.7"/>
<polygon points="544.61,844.01 543.01,838.51 546.21,838.51" fill="#222"/>
<line x1="544.61" y1="848.42" x2="544.61" y2="860.27" stroke="#4a4a4a" stroke-width="0.7"/>
<polygon points="544.61,848.42 543.01,853.92 546.21,853.92" fill="#222"/>
<text x="539.95" y="847.82" font-size="12" text-anchor="middle" fill="#1a1a1a" transform="rotate(-90 539.95 847.82)">Ø18</text>
<circle cx="637.4" cy="761.4" r="0.7" fill="#333" stroke="#3a3a3a" stroke-width="0"/>
<circle cx="637.4" cy="767" r="0.7" fill="#333" stroke="#3a3a3a" stroke-width="0"/>
<line x1="637.4" y1="770.6" x2="637.4" y2="775.8" stroke="#333" stroke-width="1.1"/>
</svg>
</body></html>
